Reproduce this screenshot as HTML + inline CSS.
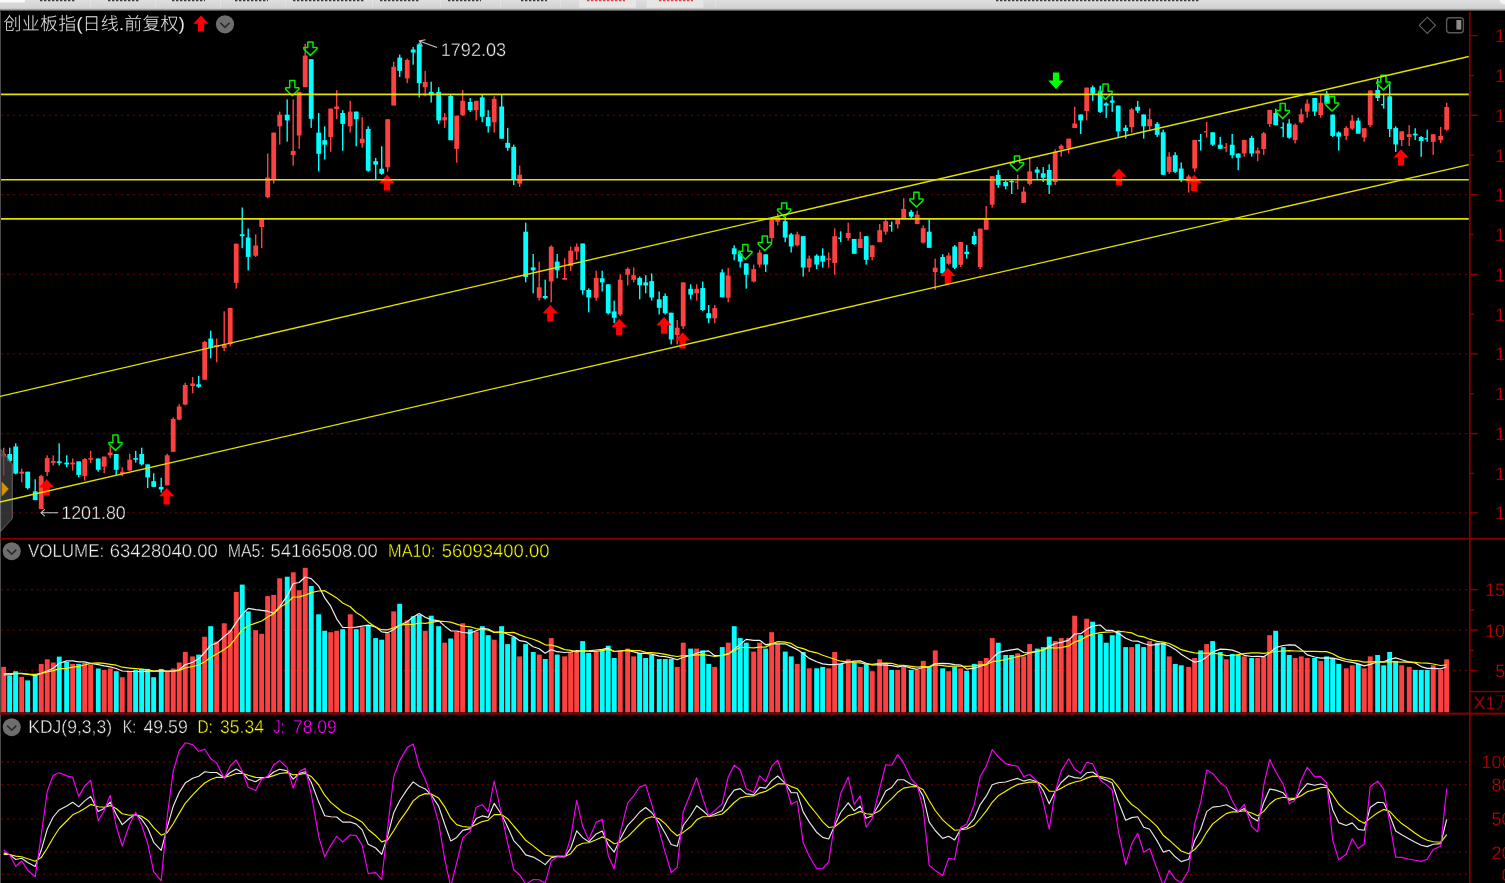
<!DOCTYPE html>
<html lang="zh"><head><meta charset="utf-8"><title>创业板指 日线</title>
<style>html,body{margin:0;padding:0;background:#000;overflow:hidden}body{width:1505px;height:883px;position:relative}</style></head>
<body>
<svg text-rendering="geometricPrecision" width="1505" height="883" viewBox="0 0 1505 883" style="position:absolute;left:0;top:0;display:block">
<defs><linearGradient id="tb" x1="0" y1="0" x2="0" y2="1"><stop offset="0" stop-color="#dedede"/><stop offset="0.72" stop-color="#d2d2d2"/><stop offset="0.86" stop-color="#8a8a8a"/><stop offset="1" stop-color="#000"/></linearGradient></defs>
<rect x="0" y="0" width="1505" height="883" fill="#000"/>
<line x1="1.3" y1="115.3" x2="1467.8" y2="115.3" stroke="#900000" stroke-width="1.3" stroke-dasharray="1.4 4.6"/>
<line x1="1.3" y1="194.7" x2="1467.8" y2="194.7" stroke="#900000" stroke-width="1.3" stroke-dasharray="1.4 4.6"/>
<line x1="1.3" y1="274.4" x2="1467.8" y2="274.4" stroke="#900000" stroke-width="1.3" stroke-dasharray="1.4 4.6"/>
<line x1="1.3" y1="353.9" x2="1467.8" y2="353.9" stroke="#900000" stroke-width="1.3" stroke-dasharray="1.4 4.6"/>
<line x1="1.3" y1="433.6" x2="1467.8" y2="433.6" stroke="#900000" stroke-width="1.3" stroke-dasharray="1.4 4.6"/>
<line x1="1.3" y1="512.9" x2="1467.8" y2="512.9" stroke="#900000" stroke-width="1.3" stroke-dasharray="1.4 4.6"/>
<line x1="1.3" y1="589.6" x2="1467.8" y2="589.6" stroke="#900000" stroke-width="1.3" stroke-dasharray="1.4 4.6"/>
<line x1="1.3" y1="630.1" x2="1467.8" y2="630.1" stroke="#900000" stroke-width="1.3" stroke-dasharray="1.4 4.6"/>
<line x1="1.3" y1="670.5" x2="1467.8" y2="670.5" stroke="#900000" stroke-width="1.3" stroke-dasharray="1.4 4.6"/>
<line x1="1.3" y1="762" x2="1467.8" y2="762" stroke="#900000" stroke-width="1.3" stroke-dasharray="1.4 4.6"/>
<line x1="1.3" y1="784.6" x2="1467.8" y2="784.6" stroke="#900000" stroke-width="1.3" stroke-dasharray="1.4 4.6"/>
<line x1="1.3" y1="818.9" x2="1467.8" y2="818.9" stroke="#900000" stroke-width="1.3" stroke-dasharray="1.4 4.6"/>
<line x1="1.3" y1="851.8" x2="1467.8" y2="851.8" stroke="#900000" stroke-width="1.3" stroke-dasharray="1.4 4.6"/>
<line x1="1.3" y1="874.3" x2="1467.8" y2="874.3" stroke="#900000" stroke-width="1.3" stroke-dasharray="1.4 4.6"/>
<rect x="0" y="11" width="1" height="872" fill="#4a4a4a"/>
<rect x="1469.8" y="34.9" width="8" height="1.4" fill="#880000"/>
<rect x="1469.8" y="74.89999999999999" width="4" height="1.4" fill="#880000"/>
<rect x="1469.8" y="114.6" width="8" height="1.4" fill="#880000"/>
<rect x="1469.8" y="154.4" width="4" height="1.4" fill="#880000"/>
<rect x="1469.8" y="194.0" width="8" height="1.4" fill="#880000"/>
<rect x="1469.8" y="233.8" width="4" height="1.4" fill="#880000"/>
<rect x="1469.8" y="273.7" width="8" height="1.4" fill="#880000"/>
<rect x="1469.8" y="313.40000000000003" width="4" height="1.4" fill="#880000"/>
<rect x="1469.8" y="353.2" width="8" height="1.4" fill="#880000"/>
<rect x="1469.8" y="393.0" width="4" height="1.4" fill="#880000"/>
<rect x="1469.8" y="432.90000000000003" width="8" height="1.4" fill="#880000"/>
<rect x="1469.8" y="472.6" width="4" height="1.4" fill="#880000"/>
<rect x="1469.8" y="512.1999999999999" width="8" height="1.4" fill="#880000"/>
<rect x="1469.8" y="588.9" width="8" height="1.4" fill="#880000"/>
<rect x="1469.8" y="609.3" width="4" height="1.4" fill="#880000"/>
<rect x="1469.8" y="629.4" width="8" height="1.4" fill="#880000"/>
<rect x="1469.8" y="649.6999999999999" width="4" height="1.4" fill="#880000"/>
<rect x="1469.8" y="669.8" width="8" height="1.4" fill="#880000"/>
<rect x="1469.8" y="690.8" width="40" height="1.4" fill="#880000"/>
<rect x="3.0" y="447.7" width="1.4" height="27.8" fill="#FF4040"/>
<rect x="1.3" y="453.8" width="4.8" height="2.8" fill="#FF4040"/>
<rect x="9.0" y="447.7" width="1.4" height="14.5" fill="#00FFFF"/>
<rect x="7.3" y="454.0" width="4.8" height="7.0" fill="#00FFFF"/>
<rect x="15.0" y="443.3" width="1.4" height="30.9" fill="#00FFFF"/>
<rect x="13.3" y="446.5" width="4.8" height="27.1" fill="#00FFFF"/>
<rect x="21.0" y="468.6" width="1.4" height="13.8" fill="#FF4040"/>
<rect x="19.3" y="471.7" width="4.8" height="1.9" fill="#FF4040"/>
<rect x="27.0" y="471.7" width="1.4" height="17.7" fill="#00FFFF"/>
<rect x="25.3" y="471.7" width="4.8" height="16.4" fill="#00FFFF"/>
<rect x="34.5" y="479.3" width="1.4" height="20.8" fill="#00FFFF"/>
<rect x="32.8" y="491.3" width="4.8" height="8.8" fill="#00FFFF"/>
<rect x="40.5" y="474.9" width="1.4" height="34.1" fill="#FF4040"/>
<rect x="38.8" y="476.1" width="4.8" height="32.9" fill="#FF4040"/>
<rect x="46.5" y="455.3" width="1.4" height="20.8" fill="#FF4040"/>
<rect x="44.8" y="458.1" width="4.8" height="13.9" fill="#FF4040"/>
<rect x="52.5" y="455.3" width="1.4" height="10.1" fill="#FF4040"/>
<rect x="50.8" y="461.0" width="4.8" height="1.9" fill="#FF4040"/>
<rect x="58.5" y="443.3" width="1.4" height="22.1" fill="#00FFFF"/>
<rect x="56.8" y="461.4" width="4.8" height="1.7" fill="#00FFFF"/>
<rect x="66.0" y="455.3" width="1.4" height="12.0" fill="#00FFFF"/>
<rect x="64.3" y="462.6" width="4.8" height="1.8" fill="#00FFFF"/>
<rect x="72.0" y="458.5" width="1.4" height="12.0" fill="#FF4040"/>
<rect x="70.3" y="462.6" width="4.8" height="1.8" fill="#FF4040"/>
<rect x="78.0" y="461.4" width="1.4" height="16.0" fill="#00FFFF"/>
<rect x="76.3" y="461.4" width="4.8" height="13.5" fill="#00FFFF"/>
<rect x="84.0" y="458.1" width="1.4" height="22.5" fill="#FF4040"/>
<rect x="82.3" y="459.1" width="4.8" height="17.0" fill="#FF4040"/>
<rect x="90.0" y="450.6" width="1.4" height="12.3" fill="#FF4040"/>
<rect x="88.3" y="458.1" width="4.8" height="1.6" fill="#FF4040"/>
<rect x="97.5" y="458.5" width="1.4" height="13.2" fill="#00FFFF"/>
<rect x="95.8" y="458.5" width="4.8" height="11.3" fill="#00FFFF"/>
<rect x="103.5" y="456.6" width="1.4" height="16.6" fill="#FF4040"/>
<rect x="101.8" y="456.6" width="4.8" height="10.1" fill="#FF4040"/>
<rect x="109.5" y="446.5" width="1.4" height="11.6" fill="#FF4040"/>
<rect x="107.8" y="452.5" width="4.8" height="2.8" fill="#FF4040"/>
<rect x="115.5" y="454.0" width="1.4" height="20.9" fill="#00FFFF"/>
<rect x="113.8" y="454.0" width="4.8" height="15.8" fill="#00FFFF"/>
<rect x="121.5" y="467.3" width="1.4" height="8.8" fill="#FF4040"/>
<rect x="119.8" y="471.7" width="4.8" height="1.9" fill="#FF4040"/>
<rect x="129.0" y="453.8" width="1.4" height="16.7" fill="#FF4040"/>
<rect x="127.3" y="459.7" width="4.8" height="10.8" fill="#FF4040"/>
<rect x="135.0" y="450.9" width="1.4" height="11.7" fill="#00FFFF"/>
<rect x="133.3" y="458.1" width="4.8" height="1.6" fill="#00FFFF"/>
<rect x="141.0" y="447.7" width="1.4" height="17.7" fill="#00FFFF"/>
<rect x="139.3" y="454.0" width="4.8" height="10.4" fill="#00FFFF"/>
<rect x="147.0" y="464.4" width="1.4" height="23.7" fill="#00FFFF"/>
<rect x="145.3" y="464.4" width="4.8" height="13.0" fill="#00FFFF"/>
<rect x="153.0" y="473.2" width="1.4" height="13.7" fill="#00FFFF"/>
<rect x="151.3" y="481.2" width="4.8" height="5.7" fill="#00FFFF"/>
<rect x="160.5" y="477.8" width="1.4" height="14.8" fill="#00FFFF"/>
<rect x="158.8" y="486.9" width="4.8" height="2.5" fill="#00FFFF"/>
<rect x="166.5" y="453.8" width="1.4" height="31.6" fill="#FF4040"/>
<rect x="164.8" y="455.3" width="4.8" height="30.1" fill="#FF4040"/>
<rect x="172.5" y="417.3" width="1.4" height="34.5" fill="#FF4040"/>
<rect x="170.8" y="418.9" width="4.8" height="32.9" fill="#FF4040"/>
<rect x="178.5" y="404.2" width="1.4" height="15.8" fill="#FF4040"/>
<rect x="176.8" y="406.5" width="4.8" height="13.1" fill="#FF4040"/>
<rect x="184.5" y="382.7" width="1.4" height="22.6" fill="#FF4040"/>
<rect x="182.8" y="385.0" width="4.8" height="19.6" fill="#FF4040"/>
<rect x="192.0" y="377.0" width="1.4" height="16.3" fill="#FF4040"/>
<rect x="190.3" y="383.4" width="4.8" height="2.6" fill="#FF4040"/>
<rect x="198.0" y="375.9" width="1.4" height="12.0" fill="#00FFFF"/>
<rect x="196.3" y="384.3" width="4.8" height="2.4" fill="#00FFFF"/>
<rect x="204.0" y="340.8" width="1.4" height="38.9" fill="#FF4040"/>
<rect x="202.3" y="341.9" width="4.8" height="37.8" fill="#FF4040"/>
<rect x="210.0" y="330.6" width="1.4" height="27.8" fill="#00FFFF"/>
<rect x="208.3" y="338.5" width="4.8" height="9.5" fill="#00FFFF"/>
<rect x="216.0" y="338.5" width="1.4" height="23.8" fill="#FF4040"/>
<rect x="214.3" y="345.0" width="4.8" height="2.0" fill="#FF4040"/>
<rect x="223.5" y="311.3" width="1.4" height="39.7" fill="#FF4040"/>
<rect x="221.8" y="344.2" width="4.8" height="3.8" fill="#FF4040"/>
<rect x="229.5" y="307.9" width="1.4" height="38.5" fill="#FF4040"/>
<rect x="227.8" y="307.9" width="4.8" height="36.3" fill="#FF4040"/>
<rect x="235.5" y="243.7" width="1.4" height="44.9" fill="#FF4040"/>
<rect x="233.8" y="243.7" width="4.8" height="39.1" fill="#FF4040"/>
<rect x="241.5" y="207.5" width="1.4" height="40.7" fill="#00FFFF"/>
<rect x="239.8" y="234.3" width="4.8" height="1.8" fill="#00FFFF"/>
<rect x="247.5" y="228.5" width="1.4" height="42.0" fill="#00FFFF"/>
<rect x="245.8" y="237.5" width="4.8" height="19.4" fill="#00FFFF"/>
<rect x="255.0" y="234.3" width="1.4" height="22.6" fill="#FF4040"/>
<rect x="253.3" y="245.5" width="4.8" height="10.2" fill="#FF4040"/>
<rect x="261.0" y="218.9" width="1.4" height="29.3" fill="#FF4040"/>
<rect x="259.3" y="219.4" width="4.8" height="7.6" fill="#FF4040"/>
<rect x="267.0" y="153.4" width="1.4" height="44.9" fill="#FF4040"/>
<rect x="265.3" y="177.5" width="4.8" height="19.7" fill="#FF4040"/>
<rect x="273.0" y="132.6" width="1.4" height="51.0" fill="#FF4040"/>
<rect x="271.3" y="132.6" width="4.8" height="46.9" fill="#FF4040"/>
<rect x="279.0" y="111.6" width="1.4" height="33.0" fill="#FF4040"/>
<rect x="277.3" y="114.7" width="4.8" height="11.6" fill="#FF4040"/>
<rect x="286.5" y="99.4" width="1.4" height="42.2" fill="#00FFFF"/>
<rect x="284.8" y="114.7" width="4.8" height="5.7" fill="#00FFFF"/>
<rect x="292.5" y="99.4" width="1.4" height="66.2" fill="#FF4040"/>
<rect x="290.8" y="151.0" width="4.8" height="4.0" fill="#FF4040"/>
<rect x="298.5" y="91.9" width="1.4" height="57.0" fill="#FF4040"/>
<rect x="296.8" y="91.9" width="4.8" height="43.6" fill="#FF4040"/>
<rect x="304.5" y="43.8" width="1.4" height="43.4" fill="#FF4040"/>
<rect x="302.8" y="55.6" width="4.8" height="31.6" fill="#FF4040"/>
<rect x="310.5" y="59.2" width="1.4" height="68.7" fill="#00FFFF"/>
<rect x="308.8" y="59.2" width="4.8" height="59.6" fill="#00FFFF"/>
<rect x="318.0" y="113.0" width="1.4" height="58.4" fill="#00FFFF"/>
<rect x="316.3" y="132.6" width="4.8" height="21.2" fill="#00FFFF"/>
<rect x="324.0" y="126.3" width="1.4" height="33.2" fill="#00FFFF"/>
<rect x="322.3" y="140.2" width="4.8" height="4.4" fill="#00FFFF"/>
<rect x="330.0" y="108.6" width="1.4" height="43.2" fill="#FF4040"/>
<rect x="328.3" y="108.6" width="4.8" height="28.5" fill="#FF4040"/>
<rect x="336.0" y="90.2" width="1.4" height="29.0" fill="#FF4040"/>
<rect x="334.3" y="106.5" width="4.8" height="2.5" fill="#FF4040"/>
<rect x="342.0" y="110.2" width="1.4" height="40.6" fill="#00FFFF"/>
<rect x="340.3" y="113.0" width="4.8" height="10.9" fill="#00FFFF"/>
<rect x="349.5" y="100.8" width="1.4" height="31.8" fill="#FF4040"/>
<rect x="347.8" y="111.6" width="4.8" height="14.7" fill="#FF4040"/>
<rect x="355.5" y="111.6" width="1.4" height="34.7" fill="#00FFFF"/>
<rect x="353.8" y="111.6" width="4.8" height="7.6" fill="#00FFFF"/>
<rect x="361.5" y="117.1" width="1.4" height="30.6" fill="#FF4040"/>
<rect x="359.8" y="138.7" width="4.8" height="4.5" fill="#FF4040"/>
<rect x="367.5" y="126.3" width="1.4" height="45.5" fill="#00FFFF"/>
<rect x="365.8" y="129.0" width="4.8" height="41.7" fill="#00FFFF"/>
<rect x="375.0" y="157.9" width="1.4" height="21.6" fill="#00FFFF"/>
<rect x="373.3" y="161.2" width="4.8" height="3.4" fill="#00FFFF"/>
<rect x="381.0" y="146.3" width="1.4" height="28.5" fill="#00FFFF"/>
<rect x="379.3" y="168.7" width="4.8" height="5.1" fill="#00FFFF"/>
<rect x="387.0" y="119.2" width="1.4" height="52.6" fill="#FF4040"/>
<rect x="385.3" y="119.2" width="4.8" height="48.1" fill="#FF4040"/>
<rect x="393.0" y="61.7" width="1.4" height="43.8" fill="#FF4040"/>
<rect x="391.3" y="66.8" width="4.8" height="38.7" fill="#FF4040"/>
<rect x="399.0" y="54.6" width="1.4" height="22.4" fill="#00FFFF"/>
<rect x="397.3" y="57.6" width="4.8" height="13.3" fill="#00FFFF"/>
<rect x="406.5" y="58.6" width="1.4" height="24.5" fill="#FF4040"/>
<rect x="404.8" y="60.0" width="4.8" height="18.4" fill="#FF4040"/>
<rect x="412.5" y="47.0" width="1.4" height="17.7" fill="#00FFFF"/>
<rect x="410.8" y="49.5" width="4.8" height="3.0" fill="#00FFFF"/>
<rect x="418.5" y="42.9" width="1.4" height="54.5" fill="#00FFFF"/>
<rect x="416.8" y="44.4" width="4.8" height="38.7" fill="#00FFFF"/>
<rect x="424.5" y="70.9" width="1.4" height="25.4" fill="#FF4040"/>
<rect x="422.8" y="82.0" width="4.8" height="5.2" fill="#FF4040"/>
<rect x="430.5" y="81.7" width="1.4" height="20.8" fill="#00FFFF"/>
<rect x="428.8" y="91.9" width="4.8" height="3.4" fill="#00FFFF"/>
<rect x="438.0" y="87.2" width="1.4" height="36.7" fill="#00FFFF"/>
<rect x="436.3" y="91.9" width="4.8" height="28.5" fill="#00FFFF"/>
<rect x="444.0" y="113.0" width="1.4" height="14.9" fill="#FF4040"/>
<rect x="442.3" y="117.1" width="4.8" height="3.3" fill="#FF4040"/>
<rect x="450.0" y="94.3" width="1.4" height="45.9" fill="#00FFFF"/>
<rect x="448.3" y="95.9" width="4.8" height="44.3" fill="#00FFFF"/>
<rect x="456.0" y="115.7" width="1.4" height="46.9" fill="#FF4040"/>
<rect x="454.3" y="115.7" width="4.8" height="33.2" fill="#FF4040"/>
<rect x="462.0" y="90.2" width="1.4" height="25.8" fill="#FF4040"/>
<rect x="460.3" y="100.8" width="4.8" height="14.3" fill="#FF4040"/>
<rect x="469.5" y="98.0" width="1.4" height="14.0" fill="#00FFFF"/>
<rect x="467.8" y="102.0" width="4.8" height="8.2" fill="#00FFFF"/>
<rect x="475.5" y="100.8" width="1.4" height="19.6" fill="#FF4040"/>
<rect x="473.8" y="100.8" width="4.8" height="9.4" fill="#FF4040"/>
<rect x="481.5" y="94.3" width="1.4" height="27.9" fill="#00FFFF"/>
<rect x="479.8" y="97.4" width="4.8" height="19.3" fill="#00FFFF"/>
<rect x="487.5" y="110.2" width="1.4" height="22.4" fill="#00FFFF"/>
<rect x="485.8" y="117.1" width="4.8" height="9.2" fill="#00FFFF"/>
<rect x="493.5" y="96.3" width="1.4" height="36.3" fill="#FF4040"/>
<rect x="491.8" y="98.8" width="4.8" height="23.6" fill="#FF4040"/>
<rect x="501.0" y="94.3" width="1.4" height="44.4" fill="#00FFFF"/>
<rect x="499.3" y="106.5" width="4.8" height="32.2" fill="#00FFFF"/>
<rect x="507.0" y="127.9" width="1.4" height="22.9" fill="#00FFFF"/>
<rect x="505.3" y="142.8" width="4.8" height="5.1" fill="#00FFFF"/>
<rect x="513.0" y="144.6" width="1.4" height="40.4" fill="#00FFFF"/>
<rect x="511.3" y="146.9" width="4.8" height="32.6" fill="#00FFFF"/>
<rect x="519.0" y="165.6" width="1.4" height="21.4" fill="#FF4040"/>
<rect x="517.3" y="174.8" width="4.8" height="8.8" fill="#FF4040"/>
<rect x="525.0" y="222.6" width="1.4" height="59.8" fill="#00FFFF"/>
<rect x="523.3" y="231.7" width="4.8" height="45.3" fill="#00FFFF"/>
<rect x="532.5" y="254.0" width="1.4" height="39.3" fill="#00FFFF"/>
<rect x="530.8" y="267.4" width="4.8" height="2.9" fill="#00FFFF"/>
<rect x="538.5" y="261.6" width="1.4" height="39.0" fill="#FF4040"/>
<rect x="536.8" y="287.3" width="4.8" height="10.5" fill="#FF4040"/>
<rect x="544.5" y="279.7" width="1.4" height="19.6" fill="#00FFFF"/>
<rect x="542.8" y="296.0" width="4.8" height="2.2" fill="#00FFFF"/>
<rect x="550.5" y="245.3" width="1.4" height="57.1" fill="#FF4040"/>
<rect x="548.8" y="246.7" width="4.8" height="34.8" fill="#FF4040"/>
<rect x="556.5" y="254.0" width="1.4" height="24.3" fill="#00FFFF"/>
<rect x="554.8" y="261.6" width="4.8" height="8.7" fill="#00FFFF"/>
<rect x="564.0" y="258.3" width="1.4" height="21.4" fill="#FF4040"/>
<rect x="562.3" y="278.0" width="4.8" height="1.7" fill="#FF4040"/>
<rect x="570.0" y="246.7" width="1.4" height="24.0" fill="#FF4040"/>
<rect x="568.3" y="250.7" width="4.8" height="15.4" fill="#FF4040"/>
<rect x="576.0" y="243.5" width="1.4" height="16.3" fill="#FF4040"/>
<rect x="574.3" y="246.7" width="4.8" height="4.9" fill="#FF4040"/>
<rect x="582.0" y="243.5" width="1.4" height="51.1" fill="#00FFFF"/>
<rect x="580.3" y="243.5" width="4.8" height="46.7" fill="#00FFFF"/>
<rect x="588.0" y="288.4" width="1.4" height="23.9" fill="#00FFFF"/>
<rect x="586.3" y="290.0" width="4.8" height="7.5" fill="#00FFFF"/>
<rect x="595.5" y="270.7" width="1.4" height="29.9" fill="#FF4040"/>
<rect x="593.8" y="277.9" width="4.8" height="19.9" fill="#FF4040"/>
<rect x="601.5" y="270.7" width="1.4" height="20.8" fill="#00FFFF"/>
<rect x="599.8" y="278.3" width="4.8" height="4.1" fill="#00FFFF"/>
<rect x="607.5" y="284.3" width="1.4" height="30.2" fill="#00FFFF"/>
<rect x="605.8" y="284.3" width="4.8" height="28.9" fill="#00FFFF"/>
<rect x="613.5" y="300.6" width="1.4" height="22.6" fill="#00FFFF"/>
<rect x="611.8" y="311.4" width="4.8" height="6.4" fill="#00FFFF"/>
<rect x="619.5" y="274.3" width="1.4" height="41.7" fill="#FF4040"/>
<rect x="617.8" y="279.7" width="4.8" height="34.8" fill="#FF4040"/>
<rect x="627.0" y="267.4" width="1.4" height="18.1" fill="#FF4040"/>
<rect x="625.3" y="268.9" width="4.8" height="5.8" fill="#FF4040"/>
<rect x="633.0" y="267.4" width="1.4" height="15.0" fill="#FF4040"/>
<rect x="631.3" y="275.2" width="4.8" height="4.5" fill="#FF4040"/>
<rect x="639.0" y="276.5" width="1.4" height="22.8" fill="#00FFFF"/>
<rect x="637.3" y="277.9" width="4.8" height="7.3" fill="#00FFFF"/>
<rect x="645.0" y="275.2" width="1.4" height="18.1" fill="#00FFFF"/>
<rect x="643.3" y="282.4" width="4.8" height="3.1" fill="#00FFFF"/>
<rect x="651.0" y="273.4" width="1.4" height="27.2" fill="#00FFFF"/>
<rect x="649.3" y="281.2" width="4.8" height="16.3" fill="#00FFFF"/>
<rect x="658.5" y="291.5" width="1.4" height="23.0" fill="#00FFFF"/>
<rect x="656.8" y="299.3" width="4.8" height="8.5" fill="#00FFFF"/>
<rect x="664.5" y="293.3" width="1.4" height="21.2" fill="#00FFFF"/>
<rect x="662.8" y="296.0" width="4.8" height="17.2" fill="#00FFFF"/>
<rect x="670.5" y="312.7" width="1.4" height="31.7" fill="#00FFFF"/>
<rect x="668.8" y="312.7" width="4.8" height="26.8" fill="#00FFFF"/>
<rect x="676.5" y="320.0" width="1.4" height="24.4" fill="#FF4040"/>
<rect x="674.8" y="327.7" width="4.8" height="7.3" fill="#FF4040"/>
<rect x="682.5" y="282.4" width="1.4" height="46.6" fill="#FF4040"/>
<rect x="680.8" y="282.4" width="4.8" height="43.9" fill="#FF4040"/>
<rect x="690.0" y="284.3" width="1.4" height="15.0" fill="#00FFFF"/>
<rect x="688.3" y="288.8" width="4.8" height="5.8" fill="#00FFFF"/>
<rect x="696.0" y="284.3" width="1.4" height="16.3" fill="#FF4040"/>
<rect x="694.3" y="288.8" width="4.8" height="4.5" fill="#FF4040"/>
<rect x="702.0" y="281.5" width="1.4" height="29.5" fill="#00FFFF"/>
<rect x="700.3" y="288.0" width="4.8" height="22.0" fill="#00FFFF"/>
<rect x="708.0" y="305.0" width="1.4" height="18.2" fill="#00FFFF"/>
<rect x="706.3" y="313.2" width="4.8" height="5.1" fill="#00FFFF"/>
<rect x="714.0" y="305.0" width="1.4" height="18.2" fill="#FF4040"/>
<rect x="712.3" y="308.1" width="4.8" height="10.2" fill="#FF4040"/>
<rect x="721.5" y="269.2" width="1.4" height="28.1" fill="#00FFFF"/>
<rect x="719.8" y="272.4" width="4.8" height="24.9" fill="#00FFFF"/>
<rect x="727.5" y="267.9" width="1.4" height="34.4" fill="#FF4040"/>
<rect x="725.8" y="275.5" width="4.8" height="22.3" fill="#FF4040"/>
<rect x="733.5" y="245.3" width="1.4" height="15.0" fill="#00FFFF"/>
<rect x="731.8" y="248.3" width="4.8" height="6.0" fill="#00FFFF"/>
<rect x="739.5" y="251.6" width="1.4" height="15.9" fill="#00FFFF"/>
<rect x="737.8" y="253.4" width="4.8" height="8.2" fill="#00FFFF"/>
<rect x="745.5" y="263.4" width="1.4" height="25.3" fill="#00FFFF"/>
<rect x="743.8" y="263.4" width="4.8" height="11.4" fill="#00FFFF"/>
<rect x="753.0" y="264.6" width="1.4" height="17.8" fill="#FF4040"/>
<rect x="751.3" y="269.2" width="4.8" height="12.3" fill="#FF4040"/>
<rect x="759.0" y="249.8" width="1.4" height="17.7" fill="#FF4040"/>
<rect x="757.3" y="252.5" width="4.8" height="12.1" fill="#FF4040"/>
<rect x="765.0" y="254.3" width="1.4" height="17.6" fill="#00FFFF"/>
<rect x="763.3" y="254.3" width="4.8" height="10.3" fill="#00FFFF"/>
<rect x="771.0" y="217.2" width="1.4" height="25.3" fill="#FF4040"/>
<rect x="769.3" y="219.9" width="4.8" height="18.1" fill="#FF4040"/>
<rect x="777.0" y="213.5" width="1.4" height="11.8" fill="#FF4040"/>
<rect x="775.3" y="217.2" width="4.8" height="4.5" fill="#FF4040"/>
<rect x="784.5" y="217.0" width="1.4" height="25.2" fill="#00FFFF"/>
<rect x="782.8" y="221.2" width="4.8" height="16.3" fill="#00FFFF"/>
<rect x="790.5" y="232.9" width="1.4" height="19.6" fill="#00FFFF"/>
<rect x="788.8" y="234.4" width="4.8" height="12.1" fill="#00FFFF"/>
<rect x="796.5" y="231.7" width="1.4" height="14.8" fill="#FF4040"/>
<rect x="794.8" y="234.4" width="4.8" height="10.9" fill="#FF4040"/>
<rect x="802.5" y="236.2" width="1.4" height="40.4" fill="#00FFFF"/>
<rect x="800.8" y="236.2" width="4.8" height="31.3" fill="#00FFFF"/>
<rect x="808.5" y="255.6" width="1.4" height="16.3" fill="#FF4040"/>
<rect x="806.8" y="258.5" width="4.8" height="9.0" fill="#FF4040"/>
<rect x="816.0" y="254.3" width="1.4" height="14.9" fill="#00FFFF"/>
<rect x="814.3" y="255.6" width="4.8" height="9.0" fill="#00FFFF"/>
<rect x="822.0" y="248.3" width="1.4" height="19.2" fill="#00FFFF"/>
<rect x="820.3" y="255.6" width="4.8" height="6.0" fill="#00FFFF"/>
<rect x="828.0" y="252.5" width="1.4" height="15.0" fill="#FF4040"/>
<rect x="826.3" y="258.5" width="4.8" height="1.4" fill="#FF4040"/>
<rect x="834.0" y="228.4" width="1.4" height="46.4" fill="#FF4040"/>
<rect x="832.3" y="236.2" width="4.8" height="26.8" fill="#FF4040"/>
<rect x="840.0" y="231.3" width="1.4" height="10.9" fill="#00FFFF"/>
<rect x="838.1" y="237.5" width="2.6" height="1.4" fill="#00FFFF"/>
<rect x="847.5" y="222.6" width="1.4" height="18.1" fill="#FF4040"/>
<rect x="845.8" y="232.9" width="4.8" height="5.1" fill="#FF4040"/>
<rect x="853.5" y="238.9" width="1.4" height="14.9" fill="#00FFFF"/>
<rect x="851.8" y="238.9" width="4.8" height="14.9" fill="#00FFFF"/>
<rect x="859.5" y="231.7" width="1.4" height="16.3" fill="#FF4040"/>
<rect x="857.8" y="238.9" width="4.8" height="9.1" fill="#FF4040"/>
<rect x="865.5" y="236.2" width="1.4" height="28.4" fill="#00FFFF"/>
<rect x="863.8" y="236.2" width="4.8" height="23.6" fill="#00FFFF"/>
<rect x="871.5" y="245.3" width="1.4" height="15.0" fill="#FF4040"/>
<rect x="869.8" y="245.3" width="4.8" height="11.7" fill="#FF4040"/>
<rect x="879.0" y="224.0" width="1.4" height="18.2" fill="#FF4040"/>
<rect x="877.3" y="230.2" width="4.8" height="12.0" fill="#FF4040"/>
<rect x="885.0" y="219.0" width="1.4" height="15.8" fill="#FF4040"/>
<rect x="883.3" y="221.2" width="4.8" height="10.5" fill="#FF4040"/>
<rect x="891.0" y="221.5" width="1.4" height="10.2" fill="#00FFFF"/>
<rect x="889.1" y="225.0" width="2.6" height="1.4" fill="#00FFFF"/>
<rect x="897.0" y="218.6" width="1.4" height="10.0" fill="#FF4040"/>
<rect x="895.3" y="219.5" width="4.8" height="4.8" fill="#FF4040"/>
<rect x="903.0" y="198.3" width="1.4" height="20.3" fill="#FF4040"/>
<rect x="901.3" y="208.9" width="4.8" height="9.7" fill="#FF4040"/>
<rect x="910.5" y="209.9" width="1.4" height="8.7" fill="#00FFFF"/>
<rect x="908.8" y="211.8" width="4.8" height="4.8" fill="#00FFFF"/>
<rect x="916.5" y="210.5" width="1.4" height="13.8" fill="#FF4040"/>
<rect x="914.8" y="214.7" width="4.8" height="9.3" fill="#FF4040"/>
<rect x="922.5" y="225.3" width="1.4" height="18.3" fill="#FF4040"/>
<rect x="920.8" y="228.2" width="4.8" height="14.4" fill="#FF4040"/>
<rect x="928.5" y="219.5" width="1.4" height="28.3" fill="#00FFFF"/>
<rect x="926.8" y="231.7" width="4.8" height="16.1" fill="#00FFFF"/>
<rect x="934.5" y="258.6" width="1.4" height="31.2" fill="#FF4040"/>
<rect x="932.8" y="267.7" width="4.8" height="4.3" fill="#FF4040"/>
<rect x="942.0" y="254.2" width="1.4" height="19.2" fill="#00FFFF"/>
<rect x="940.3" y="257.0" width="4.8" height="16.4" fill="#00FFFF"/>
<rect x="948.0" y="252.6" width="1.4" height="12.2" fill="#FF4040"/>
<rect x="946.3" y="255.5" width="4.8" height="8.3" fill="#FF4040"/>
<rect x="954.0" y="245.0" width="1.4" height="24.0" fill="#00FFFF"/>
<rect x="952.3" y="246.5" width="4.8" height="21.2" fill="#00FFFF"/>
<rect x="960.0" y="242.0" width="1.4" height="25.0" fill="#FF4040"/>
<rect x="958.3" y="242.0" width="4.8" height="22.8" fill="#FF4040"/>
<rect x="966.0" y="245.0" width="1.4" height="13.6" fill="#00FFFF"/>
<rect x="964.3" y="251.7" width="4.8" height="2.5" fill="#00FFFF"/>
<rect x="973.5" y="231.7" width="1.4" height="13.3" fill="#00FFFF"/>
<rect x="971.8" y="235.9" width="4.8" height="8.1" fill="#00FFFF"/>
<rect x="979.5" y="228.6" width="1.4" height="40.4" fill="#FF4040"/>
<rect x="977.8" y="228.6" width="4.8" height="38.4" fill="#FF4040"/>
<rect x="985.5" y="206.0" width="1.4" height="23.7" fill="#FF4040"/>
<rect x="983.8" y="219.0" width="4.8" height="10.7" fill="#FF4040"/>
<rect x="991.5" y="176.2" width="1.4" height="31.4" fill="#FF4040"/>
<rect x="989.8" y="176.2" width="4.8" height="28.5" fill="#FF4040"/>
<rect x="997.5" y="170.0" width="1.4" height="17.8" fill="#00FFFF"/>
<rect x="995.8" y="174.9" width="4.8" height="10.0" fill="#00FFFF"/>
<rect x="1005.0" y="180.4" width="1.4" height="8.9" fill="#00FFFF"/>
<rect x="1003.3" y="182.0" width="4.8" height="4.2" fill="#00FFFF"/>
<rect x="1011.0" y="179.7" width="1.4" height="14.3" fill="#00FFFF"/>
<rect x="1009.3" y="181.0" width="4.8" height="1.4" fill="#00FFFF"/>
<rect x="1017.0" y="174.7" width="1.4" height="14.6" fill="#FF4040"/>
<rect x="1015.1" y="181.5" width="2.6" height="1.4" fill="#FF4040"/>
<rect x="1023.0" y="186.8" width="1.4" height="16.0" fill="#FF4040"/>
<rect x="1021.3" y="191.6" width="4.8" height="11.2" fill="#FF4040"/>
<rect x="1029.0" y="157.0" width="1.4" height="28.4" fill="#FF4040"/>
<rect x="1027.3" y="171.4" width="4.8" height="12.5" fill="#FF4040"/>
<rect x="1036.5" y="167.0" width="1.4" height="12.0" fill="#00FFFF"/>
<rect x="1034.8" y="169.5" width="4.8" height="3.2" fill="#00FFFF"/>
<rect x="1042.5" y="167.0" width="1.4" height="15.0" fill="#00FFFF"/>
<rect x="1040.8" y="173.3" width="4.8" height="4.4" fill="#00FFFF"/>
<rect x="1048.5" y="164.3" width="1.4" height="29.7" fill="#00FFFF"/>
<rect x="1046.8" y="170.0" width="4.8" height="14.9" fill="#00FFFF"/>
<rect x="1054.5" y="149.3" width="1.4" height="35.6" fill="#FF4040"/>
<rect x="1052.8" y="151.6" width="4.8" height="30.4" fill="#FF4040"/>
<rect x="1060.5" y="144.4" width="1.4" height="12.2" fill="#FF4040"/>
<rect x="1058.8" y="145.8" width="4.8" height="3.5" fill="#FF4040"/>
<rect x="1068.0" y="138.7" width="1.4" height="14.8" fill="#FF4040"/>
<rect x="1066.3" y="138.7" width="4.8" height="9.6" fill="#FF4040"/>
<rect x="1074.0" y="106.8" width="1.4" height="21.2" fill="#FF4040"/>
<rect x="1072.3" y="123.5" width="4.8" height="4.5" fill="#FF4040"/>
<rect x="1080.0" y="114.5" width="1.4" height="19.5" fill="#00FFFF"/>
<rect x="1078.3" y="114.5" width="4.8" height="5.9" fill="#00FFFF"/>
<rect x="1086.0" y="87.6" width="1.4" height="32.8" fill="#FF4040"/>
<rect x="1084.3" y="87.6" width="4.8" height="23.4" fill="#FF4040"/>
<rect x="1092.0" y="85.6" width="1.4" height="15.3" fill="#00FFFF"/>
<rect x="1090.3" y="87.3" width="4.8" height="6.4" fill="#00FFFF"/>
<rect x="1099.5" y="85.6" width="1.4" height="27.4" fill="#00FFFF"/>
<rect x="1097.8" y="91.5" width="4.8" height="20.4" fill="#00FFFF"/>
<rect x="1105.5" y="102.2" width="1.4" height="15.7" fill="#00FFFF"/>
<rect x="1103.8" y="103.4" width="4.8" height="2.2" fill="#00FFFF"/>
<rect x="1111.5" y="95.8" width="1.4" height="16.1" fill="#00FFFF"/>
<rect x="1109.8" y="100.5" width="4.8" height="2.1" fill="#00FFFF"/>
<rect x="1117.5" y="105.6" width="1.4" height="31.8" fill="#00FFFF"/>
<rect x="1115.8" y="105.6" width="4.8" height="25.8" fill="#00FFFF"/>
<rect x="1125.0" y="125.0" width="1.4" height="13.6" fill="#00FFFF"/>
<rect x="1123.3" y="127.7" width="4.8" height="3.3" fill="#00FFFF"/>
<rect x="1131.0" y="108.0" width="1.4" height="24.8" fill="#FF4040"/>
<rect x="1129.3" y="109.4" width="4.8" height="17.8" fill="#FF4040"/>
<rect x="1137.0" y="100.9" width="1.4" height="12.1" fill="#00FFFF"/>
<rect x="1135.3" y="106.8" width="4.8" height="3.9" fill="#00FFFF"/>
<rect x="1143.0" y="114.5" width="1.4" height="24.1" fill="#00FFFF"/>
<rect x="1141.3" y="114.5" width="4.8" height="11.8" fill="#00FFFF"/>
<rect x="1149.0" y="108.5" width="1.4" height="21.2" fill="#FF4040"/>
<rect x="1147.3" y="119.2" width="4.8" height="7.1" fill="#FF4040"/>
<rect x="1156.5" y="122.0" width="1.4" height="14.9" fill="#00FFFF"/>
<rect x="1154.8" y="123.8" width="4.8" height="11.0" fill="#00FFFF"/>
<rect x="1162.5" y="129.7" width="1.4" height="45.1" fill="#00FFFF"/>
<rect x="1160.8" y="132.3" width="4.8" height="42.5" fill="#00FFFF"/>
<rect x="1168.5" y="152.2" width="1.4" height="21.7" fill="#FF4040"/>
<rect x="1166.8" y="156.6" width="4.8" height="15.3" fill="#FF4040"/>
<rect x="1174.5" y="152.2" width="1.4" height="20.8" fill="#00FFFF"/>
<rect x="1172.8" y="155.2" width="4.8" height="16.7" fill="#00FFFF"/>
<rect x="1180.5" y="162.4" width="1.4" height="19.6" fill="#00FFFF"/>
<rect x="1178.8" y="168.5" width="4.8" height="11.3" fill="#00FFFF"/>
<rect x="1188.0" y="174.8" width="1.4" height="17.8" fill="#FF4040"/>
<rect x="1186.3" y="176.5" width="4.8" height="5.0" fill="#FF4040"/>
<rect x="1194.0" y="139.9" width="1.4" height="32.0" fill="#FF4040"/>
<rect x="1192.3" y="139.9" width="4.8" height="28.6" fill="#FF4040"/>
<rect x="1200.0" y="134.0" width="1.4" height="16.5" fill="#00FFFF"/>
<rect x="1198.1" y="140.0" width="2.6" height="1.4" fill="#00FFFF"/>
<rect x="1206.0" y="122.0" width="1.4" height="15.4" fill="#FF4040"/>
<rect x="1204.1" y="131.0" width="2.6" height="1.4" fill="#FF4040"/>
<rect x="1212.0" y="132.3" width="1.4" height="13.6" fill="#00FFFF"/>
<rect x="1210.3" y="132.3" width="4.8" height="12.4" fill="#00FFFF"/>
<rect x="1219.5" y="136.9" width="1.4" height="11.9" fill="#00FFFF"/>
<rect x="1217.8" y="144.7" width="4.8" height="4.1" fill="#00FFFF"/>
<rect x="1225.5" y="143.0" width="1.4" height="9.2" fill="#FF4040"/>
<rect x="1223.6" y="147.0" width="2.6" height="1.4" fill="#FF4040"/>
<rect x="1231.5" y="134.0" width="1.4" height="24.3" fill="#00FFFF"/>
<rect x="1229.8" y="144.7" width="4.8" height="10.5" fill="#00FFFF"/>
<rect x="1237.5" y="153.5" width="1.4" height="16.7" fill="#00FFFF"/>
<rect x="1235.8" y="153.5" width="4.8" height="4.3" fill="#00FFFF"/>
<rect x="1243.5" y="139.9" width="1.4" height="16.7" fill="#FF4040"/>
<rect x="1241.8" y="139.9" width="4.8" height="13.6" fill="#FF4040"/>
<rect x="1251.0" y="135.7" width="1.4" height="20.9" fill="#00FFFF"/>
<rect x="1249.3" y="137.9" width="4.8" height="15.6" fill="#00FFFF"/>
<rect x="1257.0" y="147.6" width="1.4" height="13.6" fill="#FF4040"/>
<rect x="1255.3" y="150.5" width="4.8" height="3.0" fill="#FF4040"/>
<rect x="1263.0" y="132.0" width="1.4" height="23.0" fill="#FF4040"/>
<rect x="1261.3" y="133.3" width="4.8" height="15.7" fill="#FF4040"/>
<rect x="1269.0" y="109.9" width="1.4" height="17.0" fill="#FF4040"/>
<rect x="1267.3" y="109.9" width="4.8" height="14.1" fill="#FF4040"/>
<rect x="1275.0" y="108.7" width="1.4" height="16.5" fill="#00FFFF"/>
<rect x="1273.3" y="112.9" width="4.8" height="12.3" fill="#00FFFF"/>
<rect x="1282.5" y="122.3" width="1.4" height="14.7" fill="#00FFFF"/>
<rect x="1280.6" y="127.0" width="2.6" height="1.4" fill="#00FFFF"/>
<rect x="1288.5" y="119.2" width="1.4" height="19.6" fill="#00FFFF"/>
<rect x="1286.8" y="123.5" width="4.8" height="14.1" fill="#00FFFF"/>
<rect x="1294.5" y="123.5" width="1.4" height="20.0" fill="#FF4040"/>
<rect x="1292.8" y="124.8" width="4.8" height="15.3" fill="#FF4040"/>
<rect x="1300.5" y="108.7" width="1.4" height="14.8" fill="#FF4040"/>
<rect x="1298.8" y="114.3" width="4.8" height="8.0" fill="#FF4040"/>
<rect x="1306.5" y="99.4" width="1.4" height="18.3" fill="#FF4040"/>
<rect x="1304.8" y="103.6" width="4.8" height="8.0" fill="#FF4040"/>
<rect x="1314.0" y="98.0" width="1.4" height="18.0" fill="#00FFFF"/>
<rect x="1312.3" y="98.0" width="4.8" height="13.6" fill="#00FFFF"/>
<rect x="1320.0" y="94.3" width="1.4" height="23.4" fill="#FF4040"/>
<rect x="1318.3" y="102.8" width="4.8" height="12.2" fill="#FF4040"/>
<rect x="1326.0" y="90.9" width="1.4" height="12.7" fill="#00FFFF"/>
<rect x="1324.3" y="94.3" width="4.8" height="9.3" fill="#00FFFF"/>
<rect x="1332.0" y="114.6" width="1.4" height="22.4" fill="#00FFFF"/>
<rect x="1330.3" y="114.6" width="4.8" height="21.3" fill="#00FFFF"/>
<rect x="1338.0" y="131.3" width="1.4" height="19.4" fill="#00FFFF"/>
<rect x="1336.3" y="132.5" width="4.8" height="4.2" fill="#00FFFF"/>
<rect x="1345.5" y="126.2" width="1.4" height="13.9" fill="#FF4040"/>
<rect x="1343.8" y="127.9" width="4.8" height="8.0" fill="#FF4040"/>
<rect x="1351.5" y="115.0" width="1.4" height="15.0" fill="#FF4040"/>
<rect x="1349.8" y="120.6" width="4.8" height="8.0" fill="#FF4040"/>
<rect x="1357.5" y="117.7" width="1.4" height="16.0" fill="#00FFFF"/>
<rect x="1355.8" y="120.6" width="4.8" height="13.1" fill="#00FFFF"/>
<rect x="1363.5" y="128.2" width="1.4" height="13.6" fill="#FF4040"/>
<rect x="1361.8" y="128.2" width="4.8" height="9.4" fill="#FF4040"/>
<rect x="1369.5" y="90.5" width="1.4" height="36.4" fill="#FF4040"/>
<rect x="1367.8" y="90.5" width="4.8" height="34.7" fill="#FF4040"/>
<rect x="1377.0" y="79.0" width="1.4" height="22.0" fill="#00FFFF"/>
<rect x="1375.3" y="90.0" width="4.8" height="8.0" fill="#00FFFF"/>
<rect x="1383.0" y="95.0" width="1.4" height="13.7" fill="#00FFFF"/>
<rect x="1381.1" y="104.0" width="2.6" height="1.4" fill="#00FFFF"/>
<rect x="1389.0" y="83.7" width="1.4" height="53.3" fill="#00FFFF"/>
<rect x="1387.3" y="96.3" width="4.8" height="32.7" fill="#00FFFF"/>
<rect x="1395.0" y="126.2" width="1.4" height="25.8" fill="#00FFFF"/>
<rect x="1393.3" y="127.9" width="4.8" height="16.5" fill="#00FFFF"/>
<rect x="1401.0" y="131.3" width="1.4" height="14.7" fill="#FF4040"/>
<rect x="1399.3" y="131.3" width="4.8" height="8.8" fill="#FF4040"/>
<rect x="1408.5" y="125.2" width="1.4" height="20.8" fill="#FF4040"/>
<rect x="1406.8" y="134.2" width="4.8" height="2.8" fill="#FF4040"/>
<rect x="1414.5" y="128.2" width="1.4" height="11.9" fill="#00FFFF"/>
<rect x="1412.8" y="133.7" width="4.8" height="1.7" fill="#00FFFF"/>
<rect x="1420.5" y="135.9" width="1.4" height="20.9" fill="#00FFFF"/>
<rect x="1418.8" y="137.0" width="4.8" height="4.0" fill="#00FFFF"/>
<rect x="1426.5" y="129.6" width="1.4" height="12.2" fill="#00FFFF"/>
<rect x="1424.6" y="138.0" width="2.6" height="1.4" fill="#00FFFF"/>
<rect x="1432.5" y="134.2" width="1.4" height="20.8" fill="#FF4040"/>
<rect x="1430.8" y="134.2" width="4.8" height="7.6" fill="#FF4040"/>
<rect x="1440.0" y="126.9" width="1.4" height="16.3" fill="#FF4040"/>
<rect x="1438.3" y="135.9" width="4.8" height="4.2" fill="#FF4040"/>
<rect x="1446.0" y="102.8" width="1.4" height="28.0" fill="#FF4040"/>
<rect x="1444.3" y="107.0" width="4.8" height="22.6" fill="#FF4040"/>
<path d="M115.5,450.4 L122.1,444.0 L122.1,442.4 L118.1,442.4 L118.1,435.1 L112.9,435.1 L112.9,442.4 L108.9,442.4 L108.9,444.0 Z" fill="none" stroke="#00EC00" stroke-width="1.5" stroke-linejoin="round"/>
<path d="M292.3,95.7 L298.90000000000003,89.3 L298.90000000000003,87.7 L294.90000000000003,87.7 L294.90000000000003,80.6 L289.7,80.6 L289.7,87.7 L285.7,87.7 L285.7,89.3 Z" fill="none" stroke="#00EC00" stroke-width="1.5" stroke-linejoin="round"/>
<path d="M310.4,55.4 L317.0,49.0 L317.0,47.4 L313.0,47.4 L313.0,41.9 L307.79999999999995,41.9 L307.79999999999995,47.4 L303.79999999999995,47.4 L303.79999999999995,49.0 Z" fill="none" stroke="#00EC00" stroke-width="1.5" stroke-linejoin="round"/>
<path d="M745.3,259.2 L751.9,252.79999999999998 L751.9,251.2 L747.9,251.2 L747.9,244.6 L742.6999999999999,244.6 L742.6999999999999,251.2 L738.6999999999999,251.2 L738.6999999999999,252.79999999999998 Z" fill="none" stroke="#00EC00" stroke-width="1.5" stroke-linejoin="round"/>
<path d="M764.8,250.6 L771.4,244.2 L771.4,242.6 L767.4,242.6 L767.4,235.9 L762.1999999999999,235.9 L762.1999999999999,242.6 L758.1999999999999,242.6 L758.1999999999999,244.2 Z" fill="none" stroke="#00EC00" stroke-width="1.5" stroke-linejoin="round"/>
<path d="M784.2,216.9 L790.8000000000001,210.5 L790.8000000000001,208.9 L786.8000000000001,208.9 L786.8000000000001,202.9 L781.6,202.9 L781.6,208.9 L777.6,208.9 L777.6,210.5 Z" fill="none" stroke="#00EC00" stroke-width="1.5" stroke-linejoin="round"/>
<path d="M916.4,207.0 L923.0,200.6 L923.0,199.0 L919.0,199.0 L919.0,192.2 L913.8,192.2 L913.8,199.0 L909.8,199.0 L909.8,200.6 Z" fill="none" stroke="#00EC00" stroke-width="1.5" stroke-linejoin="round"/>
<path d="M1017,170.8 L1023.6,164.4 L1023.6,162.8 L1019.6,162.8 L1019.6,156.0 L1014.4,156.0 L1014.4,162.8 L1010.4,162.8 L1010.4,164.4 Z" fill="none" stroke="#00EC00" stroke-width="1.5" stroke-linejoin="round"/>
<path d="M1105.5,99.2 L1112.1,92.8 L1112.1,91.2 L1108.1,91.2 L1108.1,84.1 L1102.9,84.1 L1102.9,91.2 L1098.9,91.2 L1098.9,92.8 Z" fill="none" stroke="#00EC00" stroke-width="1.5" stroke-linejoin="round"/>
<path d="M1282.7,118.4 L1289.3,112.0 L1289.3,110.4 L1285.3,110.4 L1285.3,103.6 L1280.1000000000001,103.6 L1280.1000000000001,110.4 L1276.1000000000001,110.4 L1276.1000000000001,112.0 Z" fill="none" stroke="#00EC00" stroke-width="1.5" stroke-linejoin="round"/>
<path d="M1332,111.0 L1338.6,104.6 L1338.6,103.0 L1334.6,103.0 L1334.6,96.6 L1329.4,96.6 L1329.4,103.0 L1325.4,103.0 L1325.4,104.6 Z" fill="none" stroke="#00EC00" stroke-width="1.5" stroke-linejoin="round"/>
<path d="M1383.4,89.9 L1390.0,83.5 L1390.0,81.9 L1386.0,81.9 L1386.0,75.3 L1380.8000000000002,75.3 L1380.8000000000002,81.9 L1376.8000000000002,81.9 L1376.8000000000002,83.5 Z" fill="none" stroke="#00EC00" stroke-width="1.5" stroke-linejoin="round"/>
<path d="M1056,89.2 L1063.7,80.4 L1059.1,80.4 L1059.1,72.6 L1052.9,72.6 L1052.9,80.4 L1048.3,80.4 Z" fill="#00FF00"/>
<path d="M46.7,479.3 L54.400000000000006,487.6 L49.800000000000004,487.6 L49.800000000000004,495.7 L43.6,495.7 L43.6,487.6 L39.0,487.6 Z" fill="#FF0000"/>
<path d="M166.7,488 L174.39999999999998,496.3 L169.79999999999998,496.3 L169.79999999999998,504.5 L163.6,504.5 L163.6,496.3 L159.0,496.3 Z" fill="#FF0000"/>
<path d="M387,174.8 L394.7,183.10000000000002 L390.1,183.10000000000002 L390.1,190.5 L383.9,190.5 L383.9,183.10000000000002 L379.3,183.10000000000002 Z" fill="#FF0000"/>
<path d="M550.3,305 L558.0,313.3 L553.4,313.3 L553.4,321.4 L547.1999999999999,321.4 L547.1999999999999,313.3 L542.5999999999999,313.3 Z" fill="#FF0000"/>
<path d="M619.2,318.7 L626.9000000000001,327.0 L622.3000000000001,327.0 L622.3000000000001,335 L616.1,335 L616.1,327.0 L611.5,327.0 Z" fill="#FF0000"/>
<path d="M664,316.9 L671.7,325.2 L667.1,325.2 L667.1,333.7 L660.9,333.7 L660.9,325.2 L656.3,325.2 Z" fill="#FF0000"/>
<path d="M682.6,332.3 L690.3000000000001,340.6 L685.7,340.6 L685.7,348.6 L679.5,348.6 L679.5,340.6 L674.9,340.6 Z" fill="#FF0000"/>
<path d="M947.8,267.7 L955.5,276.0 L950.9,276.0 L950.9,284 L944.6999999999999,284 L944.6999999999999,276.0 L940.0999999999999,276.0 Z" fill="#FF0000"/>
<path d="M1119,168.5 L1126.7,176.8 L1122.1,176.8 L1122.1,185 L1115.9,185 L1115.9,176.8 L1111.3,176.8 Z" fill="#FF0000"/>
<path d="M1194.2,174.8 L1201.9,183.10000000000002 L1197.3,183.10000000000002 L1197.3,190.9 L1191.1000000000001,190.9 L1191.1000000000001,183.10000000000002 L1186.5,183.10000000000002 Z" fill="#FF0000"/>
<path d="M1401,149.2 L1408.7,157.5 L1404.1,157.5 L1404.1,165.5 L1397.9,165.5 L1397.9,157.5 L1393.3,157.5 Z" fill="#FF0000"/>
<path d="M201,15.5 L208.7,23.8 L204.1,23.8 L204.1,31.5 L197.9,31.5 L197.9,23.8 L193.3,23.8 Z" fill="#FF0000"/>
<path d="M0.5,449 L12.3,464 L12.3,518.5 L0.5,531.5 Z" fill="#444" fill-opacity="0.72" stroke="#777" stroke-opacity="0.8" stroke-width="1"/>
<path d="M1.6,481.5 L8.8,489 L1.6,496.5 Z" fill="#D89000"/>
<line x1="1" y1="94.4" x2="1468.8" y2="94.4" stroke="#E2E200" stroke-width="1.6"/>
<line x1="1" y1="179.8" x2="1468.8" y2="179.8" stroke="#E2E200" stroke-width="1.6"/>
<line x1="1" y1="218.9" x2="1468.8" y2="218.9" stroke="#E2E200" stroke-width="1.6"/>
<line x1="0" y1="396.3" x2="1468.8" y2="56.5" stroke="#E2E200" stroke-width="1.3"/>
<line x1="0" y1="502" x2="1468.8" y2="164.6" stroke="#E2E200" stroke-width="1.3"/>
<rect x="1.2" y="666.9" width="4.9" height="45.5" fill="#FF4040"/>
<rect x="7.2" y="675.4" width="4.9" height="37.0" fill="#00FFFF"/>
<rect x="13.2" y="671.2" width="4.9" height="41.2" fill="#00FFFF"/>
<rect x="19.2" y="676.8" width="4.9" height="35.6" fill="#FF4040"/>
<rect x="25.2" y="680.4" width="4.9" height="32.0" fill="#00FFFF"/>
<rect x="32.8" y="674.8" width="4.9" height="37.6" fill="#00FFFF"/>
<rect x="38.8" y="663.9" width="4.9" height="48.5" fill="#FF4040"/>
<rect x="44.8" y="659.3" width="4.9" height="53.1" fill="#FF4040"/>
<rect x="50.8" y="662.5" width="4.9" height="49.9" fill="#FF4040"/>
<rect x="56.8" y="656.6" width="4.9" height="55.8" fill="#00FFFF"/>
<rect x="64.2" y="661.9" width="4.9" height="50.5" fill="#00FFFF"/>
<rect x="70.2" y="663.9" width="4.9" height="48.5" fill="#FF4040"/>
<rect x="76.2" y="663.9" width="4.9" height="48.5" fill="#00FFFF"/>
<rect x="82.2" y="662.9" width="4.9" height="49.5" fill="#FF4040"/>
<rect x="88.2" y="664.5" width="4.9" height="47.9" fill="#FF4040"/>
<rect x="95.8" y="668.5" width="4.9" height="43.9" fill="#00FFFF"/>
<rect x="101.8" y="669.9" width="4.9" height="42.5" fill="#FF4040"/>
<rect x="107.8" y="668.5" width="4.9" height="43.9" fill="#FF4040"/>
<rect x="113.8" y="671.2" width="4.9" height="41.2" fill="#00FFFF"/>
<rect x="119.8" y="677.2" width="4.9" height="35.2" fill="#FF4040"/>
<rect x="127.2" y="670.8" width="4.9" height="41.6" fill="#FF4040"/>
<rect x="133.2" y="669.9" width="4.9" height="42.5" fill="#00FFFF"/>
<rect x="139.2" y="668.9" width="4.9" height="43.5" fill="#00FFFF"/>
<rect x="145.2" y="668.9" width="4.9" height="43.5" fill="#00FFFF"/>
<rect x="151.2" y="677.2" width="4.9" height="35.2" fill="#00FFFF"/>
<rect x="158.8" y="668.9" width="4.9" height="43.5" fill="#00FFFF"/>
<rect x="164.8" y="671.8" width="4.9" height="40.6" fill="#FF4040"/>
<rect x="170.8" y="668.5" width="4.9" height="43.9" fill="#FF4040"/>
<rect x="176.8" y="662.5" width="4.9" height="49.9" fill="#FF4040"/>
<rect x="182.8" y="652.0" width="4.9" height="60.4" fill="#FF4040"/>
<rect x="190.2" y="656.4" width="4.9" height="56.0" fill="#FF4040"/>
<rect x="196.2" y="654.6" width="4.9" height="57.8" fill="#00FFFF"/>
<rect x="202.2" y="636.7" width="4.9" height="75.7" fill="#FF4040"/>
<rect x="208.2" y="626.2" width="4.9" height="86.2" fill="#00FFFF"/>
<rect x="214.2" y="641.5" width="4.9" height="70.9" fill="#FF4040"/>
<rect x="221.8" y="623.3" width="4.9" height="89.1" fill="#FF4040"/>
<rect x="227.8" y="630.2" width="4.9" height="82.2" fill="#FF4040"/>
<rect x="233.8" y="591.9" width="4.9" height="120.5" fill="#FF4040"/>
<rect x="239.8" y="584.6" width="4.9" height="127.8" fill="#00FFFF"/>
<rect x="245.8" y="611.4" width="4.9" height="101.0" fill="#00FFFF"/>
<rect x="253.2" y="630.2" width="4.9" height="82.2" fill="#FF4040"/>
<rect x="259.2" y="633.8" width="4.9" height="78.6" fill="#FF4040"/>
<rect x="265.2" y="596.1" width="4.9" height="116.3" fill="#FF4040"/>
<rect x="271.2" y="594.9" width="4.9" height="117.5" fill="#FF4040"/>
<rect x="277.2" y="578.3" width="4.9" height="134.1" fill="#FF4040"/>
<rect x="284.8" y="576.7" width="4.9" height="135.7" fill="#00FFFF"/>
<rect x="290.8" y="572.3" width="4.9" height="140.1" fill="#FF4040"/>
<rect x="296.8" y="590.2" width="4.9" height="122.2" fill="#FF4040"/>
<rect x="302.8" y="567.8" width="4.9" height="144.6" fill="#FF4040"/>
<rect x="308.8" y="586.0" width="4.9" height="126.4" fill="#00FFFF"/>
<rect x="316.2" y="614.3" width="4.9" height="98.1" fill="#00FFFF"/>
<rect x="322.2" y="630.8" width="4.9" height="81.6" fill="#00FFFF"/>
<rect x="328.2" y="632.2" width="4.9" height="80.2" fill="#FF4040"/>
<rect x="334.2" y="630.8" width="4.9" height="81.6" fill="#FF4040"/>
<rect x="340.2" y="629.2" width="4.9" height="83.2" fill="#00FFFF"/>
<rect x="347.8" y="614.3" width="4.9" height="98.1" fill="#FF4040"/>
<rect x="353.8" y="629.2" width="4.9" height="83.2" fill="#00FFFF"/>
<rect x="359.8" y="627.2" width="4.9" height="85.2" fill="#FF4040"/>
<rect x="365.8" y="625.2" width="4.9" height="87.2" fill="#00FFFF"/>
<rect x="373.2" y="638.1" width="4.9" height="74.3" fill="#00FFFF"/>
<rect x="379.2" y="639.7" width="4.9" height="72.7" fill="#00FFFF"/>
<rect x="385.2" y="633.2" width="4.9" height="79.2" fill="#FF4040"/>
<rect x="391.2" y="611.4" width="4.9" height="101.0" fill="#FF4040"/>
<rect x="397.2" y="603.8" width="4.9" height="108.6" fill="#00FFFF"/>
<rect x="404.8" y="620.3" width="4.9" height="92.1" fill="#FF4040"/>
<rect x="410.8" y="616.3" width="4.9" height="96.1" fill="#00FFFF"/>
<rect x="416.8" y="614.9" width="4.9" height="97.5" fill="#00FFFF"/>
<rect x="422.8" y="630.8" width="4.9" height="81.6" fill="#FF4040"/>
<rect x="428.8" y="615.7" width="4.9" height="96.7" fill="#00FFFF"/>
<rect x="436.2" y="626.2" width="4.9" height="86.2" fill="#00FFFF"/>
<rect x="442.2" y="642.7" width="4.9" height="69.7" fill="#FF4040"/>
<rect x="448.2" y="638.5" width="4.9" height="73.9" fill="#00FFFF"/>
<rect x="454.2" y="631.6" width="4.9" height="80.8" fill="#FF4040"/>
<rect x="460.2" y="623.3" width="4.9" height="89.1" fill="#FF4040"/>
<rect x="467.8" y="629.2" width="4.9" height="83.2" fill="#00FFFF"/>
<rect x="473.8" y="631.6" width="4.9" height="80.8" fill="#FF4040"/>
<rect x="479.8" y="626.2" width="4.9" height="86.2" fill="#00FFFF"/>
<rect x="485.8" y="635.2" width="4.9" height="77.2" fill="#00FFFF"/>
<rect x="491.8" y="639.7" width="4.9" height="72.7" fill="#FF4040"/>
<rect x="499.2" y="626.2" width="4.9" height="86.2" fill="#00FFFF"/>
<rect x="505.2" y="644.1" width="4.9" height="68.3" fill="#00FFFF"/>
<rect x="511.3" y="637.1" width="4.9" height="75.3" fill="#00FFFF"/>
<rect x="517.2" y="656.4" width="4.9" height="56.0" fill="#FF4040"/>
<rect x="523.2" y="644.1" width="4.9" height="68.3" fill="#00FFFF"/>
<rect x="530.8" y="652.0" width="4.9" height="60.4" fill="#00FFFF"/>
<rect x="536.8" y="654.6" width="4.9" height="57.8" fill="#FF4040"/>
<rect x="542.8" y="659.0" width="4.9" height="53.4" fill="#00FFFF"/>
<rect x="548.8" y="638.1" width="4.9" height="74.3" fill="#FF4040"/>
<rect x="554.8" y="654.6" width="4.9" height="57.8" fill="#00FFFF"/>
<rect x="562.2" y="656.4" width="4.9" height="56.0" fill="#FF4040"/>
<rect x="568.2" y="652.0" width="4.9" height="60.4" fill="#FF4040"/>
<rect x="574.2" y="652.0" width="4.9" height="60.4" fill="#FF4040"/>
<rect x="580.2" y="641.1" width="4.9" height="71.3" fill="#00FFFF"/>
<rect x="586.2" y="653.0" width="4.9" height="59.4" fill="#00FFFF"/>
<rect x="593.8" y="652.0" width="4.9" height="60.4" fill="#FF4040"/>
<rect x="599.8" y="649.0" width="4.9" height="63.4" fill="#00FFFF"/>
<rect x="605.8" y="645.7" width="4.9" height="66.7" fill="#00FFFF"/>
<rect x="611.8" y="658.0" width="4.9" height="54.4" fill="#00FFFF"/>
<rect x="617.8" y="650.4" width="4.9" height="62.0" fill="#FF4040"/>
<rect x="625.2" y="648.6" width="4.9" height="63.8" fill="#FF4040"/>
<rect x="631.2" y="656.4" width="4.9" height="56.0" fill="#FF4040"/>
<rect x="637.2" y="653.0" width="4.9" height="59.4" fill="#00FFFF"/>
<rect x="643.2" y="658.0" width="4.9" height="54.4" fill="#00FFFF"/>
<rect x="649.2" y="654.6" width="4.9" height="57.8" fill="#00FFFF"/>
<rect x="656.8" y="659.0" width="4.9" height="53.4" fill="#00FFFF"/>
<rect x="662.8" y="659.0" width="4.9" height="53.4" fill="#00FFFF"/>
<rect x="668.8" y="659.0" width="4.9" height="53.4" fill="#00FFFF"/>
<rect x="674.8" y="666.9" width="4.9" height="45.5" fill="#FF4040"/>
<rect x="680.8" y="642.7" width="4.9" height="69.7" fill="#FF4040"/>
<rect x="688.2" y="648.6" width="4.9" height="63.8" fill="#00FFFF"/>
<rect x="694.2" y="648.6" width="4.9" height="63.8" fill="#FF4040"/>
<rect x="700.2" y="650.4" width="4.9" height="62.0" fill="#00FFFF"/>
<rect x="706.2" y="663.9" width="4.9" height="48.5" fill="#00FFFF"/>
<rect x="712.2" y="666.9" width="4.9" height="45.5" fill="#FF4040"/>
<rect x="719.8" y="647.1" width="4.9" height="65.3" fill="#00FFFF"/>
<rect x="725.8" y="642.7" width="4.9" height="69.7" fill="#FF4040"/>
<rect x="731.8" y="626.2" width="4.9" height="86.2" fill="#00FFFF"/>
<rect x="737.8" y="638.1" width="4.9" height="74.3" fill="#00FFFF"/>
<rect x="743.8" y="642.7" width="4.9" height="69.7" fill="#00FFFF"/>
<rect x="751.2" y="651.6" width="4.9" height="60.8" fill="#FF4040"/>
<rect x="757.2" y="642.7" width="4.9" height="69.7" fill="#FF4040"/>
<rect x="763.2" y="648.6" width="4.9" height="63.8" fill="#00FFFF"/>
<rect x="769.2" y="632.2" width="4.9" height="80.2" fill="#FF4040"/>
<rect x="775.2" y="644.1" width="4.9" height="68.3" fill="#FF4040"/>
<rect x="782.8" y="651.6" width="4.9" height="60.8" fill="#00FFFF"/>
<rect x="788.8" y="656.4" width="4.9" height="56.0" fill="#00FFFF"/>
<rect x="794.8" y="663.9" width="4.9" height="48.5" fill="#FF4040"/>
<rect x="800.8" y="652.0" width="4.9" height="60.4" fill="#00FFFF"/>
<rect x="806.8" y="668.3" width="4.9" height="44.1" fill="#FF4040"/>
<rect x="814.2" y="668.3" width="4.9" height="44.1" fill="#00FFFF"/>
<rect x="820.2" y="666.9" width="4.9" height="45.5" fill="#00FFFF"/>
<rect x="826.2" y="668.3" width="4.9" height="44.1" fill="#FF4040"/>
<rect x="832.2" y="652.0" width="4.9" height="60.4" fill="#FF4040"/>
<rect x="838.2" y="663.9" width="4.9" height="48.5" fill="#00FFFF"/>
<rect x="845.8" y="659.3" width="4.9" height="53.1" fill="#FF4040"/>
<rect x="851.8" y="662.5" width="4.9" height="49.9" fill="#00FFFF"/>
<rect x="857.8" y="666.9" width="4.9" height="45.5" fill="#FF4040"/>
<rect x="863.8" y="663.9" width="4.9" height="48.5" fill="#00FFFF"/>
<rect x="869.8" y="671.2" width="4.9" height="41.2" fill="#FF4040"/>
<rect x="877.2" y="659.3" width="4.9" height="53.1" fill="#FF4040"/>
<rect x="883.2" y="663.9" width="4.9" height="48.5" fill="#FF4040"/>
<rect x="889.2" y="669.9" width="4.9" height="42.5" fill="#00FFFF"/>
<rect x="895.2" y="669.9" width="4.9" height="42.5" fill="#FF4040"/>
<rect x="901.2" y="666.9" width="4.9" height="45.5" fill="#FF4040"/>
<rect x="908.8" y="669.9" width="4.9" height="42.5" fill="#00FFFF"/>
<rect x="914.8" y="669.9" width="4.9" height="42.5" fill="#FF4040"/>
<rect x="920.8" y="660.9" width="4.9" height="51.5" fill="#FF4040"/>
<rect x="926.8" y="666.9" width="4.9" height="45.5" fill="#00FFFF"/>
<rect x="932.8" y="650.4" width="4.9" height="62.0" fill="#FF4040"/>
<rect x="940.2" y="668.3" width="4.9" height="44.1" fill="#00FFFF"/>
<rect x="946.2" y="671.2" width="4.9" height="41.2" fill="#FF4040"/>
<rect x="952.2" y="666.9" width="4.9" height="45.5" fill="#00FFFF"/>
<rect x="958.2" y="668.3" width="4.9" height="44.1" fill="#FF4040"/>
<rect x="964.2" y="670.8" width="4.9" height="41.6" fill="#00FFFF"/>
<rect x="971.8" y="663.9" width="4.9" height="48.5" fill="#00FFFF"/>
<rect x="977.8" y="660.9" width="4.9" height="51.5" fill="#FF4040"/>
<rect x="983.8" y="658.0" width="4.9" height="54.4" fill="#FF4040"/>
<rect x="989.8" y="638.1" width="4.9" height="74.3" fill="#FF4040"/>
<rect x="995.8" y="642.7" width="4.9" height="69.7" fill="#00FFFF"/>
<rect x="1003.2" y="655.0" width="4.9" height="57.4" fill="#00FFFF"/>
<rect x="1009.2" y="655.0" width="4.9" height="57.4" fill="#00FFFF"/>
<rect x="1015.2" y="653.4" width="4.9" height="59.0" fill="#FF4040"/>
<rect x="1021.2" y="656.4" width="4.9" height="56.0" fill="#FF4040"/>
<rect x="1027.2" y="644.1" width="4.9" height="68.3" fill="#FF4040"/>
<rect x="1034.8" y="648.6" width="4.9" height="63.8" fill="#00FFFF"/>
<rect x="1040.8" y="647.1" width="4.9" height="65.3" fill="#00FFFF"/>
<rect x="1046.8" y="636.7" width="4.9" height="75.7" fill="#00FFFF"/>
<rect x="1052.8" y="641.1" width="4.9" height="71.3" fill="#FF4040"/>
<rect x="1058.8" y="638.1" width="4.9" height="74.3" fill="#FF4040"/>
<rect x="1066.2" y="638.1" width="4.9" height="74.3" fill="#FF4040"/>
<rect x="1072.2" y="615.7" width="4.9" height="96.7" fill="#FF4040"/>
<rect x="1078.2" y="635.2" width="4.9" height="77.2" fill="#00FFFF"/>
<rect x="1084.2" y="618.7" width="4.9" height="93.7" fill="#FF4040"/>
<rect x="1090.2" y="621.7" width="4.9" height="90.7" fill="#00FFFF"/>
<rect x="1097.8" y="633.8" width="4.9" height="78.6" fill="#00FFFF"/>
<rect x="1103.8" y="642.7" width="4.9" height="69.7" fill="#00FFFF"/>
<rect x="1109.8" y="635.2" width="4.9" height="77.2" fill="#00FFFF"/>
<rect x="1115.8" y="632.2" width="4.9" height="80.2" fill="#00FFFF"/>
<rect x="1123.2" y="647.1" width="4.9" height="65.3" fill="#00FFFF"/>
<rect x="1129.2" y="647.1" width="4.9" height="65.3" fill="#FF4040"/>
<rect x="1135.2" y="644.1" width="4.9" height="68.3" fill="#00FFFF"/>
<rect x="1141.2" y="647.1" width="4.9" height="65.3" fill="#00FFFF"/>
<rect x="1147.2" y="641.1" width="4.9" height="71.3" fill="#FF4040"/>
<rect x="1154.8" y="642.7" width="4.9" height="69.7" fill="#00FFFF"/>
<rect x="1160.8" y="642.7" width="4.9" height="69.7" fill="#00FFFF"/>
<rect x="1166.8" y="656.4" width="4.9" height="56.0" fill="#FF4040"/>
<rect x="1172.8" y="663.9" width="4.9" height="48.5" fill="#00FFFF"/>
<rect x="1178.8" y="665.3" width="4.9" height="47.1" fill="#00FFFF"/>
<rect x="1186.2" y="666.9" width="4.9" height="45.5" fill="#FF4040"/>
<rect x="1192.2" y="658.0" width="4.9" height="54.4" fill="#FF4040"/>
<rect x="1198.2" y="650.4" width="4.9" height="62.0" fill="#00FFFF"/>
<rect x="1204.2" y="644.1" width="4.9" height="68.3" fill="#FF4040"/>
<rect x="1210.2" y="641.1" width="4.9" height="71.3" fill="#00FFFF"/>
<rect x="1217.8" y="652.0" width="4.9" height="60.4" fill="#00FFFF"/>
<rect x="1223.8" y="659.3" width="4.9" height="53.1" fill="#FF4040"/>
<rect x="1229.8" y="654.0" width="4.9" height="58.4" fill="#00FFFF"/>
<rect x="1235.8" y="655.0" width="4.9" height="57.4" fill="#00FFFF"/>
<rect x="1241.8" y="656.4" width="4.9" height="56.0" fill="#FF4040"/>
<rect x="1249.2" y="658.0" width="4.9" height="54.4" fill="#00FFFF"/>
<rect x="1255.2" y="658.0" width="4.9" height="54.4" fill="#FF4040"/>
<rect x="1261.2" y="656.4" width="4.9" height="56.0" fill="#FF4040"/>
<rect x="1267.2" y="635.2" width="4.9" height="77.2" fill="#FF4040"/>
<rect x="1273.2" y="630.8" width="4.9" height="81.6" fill="#00FFFF"/>
<rect x="1280.8" y="647.1" width="4.9" height="65.3" fill="#00FFFF"/>
<rect x="1286.8" y="655.0" width="4.9" height="57.4" fill="#00FFFF"/>
<rect x="1292.8" y="658.0" width="4.9" height="54.4" fill="#FF4040"/>
<rect x="1298.8" y="656.4" width="4.9" height="56.0" fill="#FF4040"/>
<rect x="1304.8" y="658.0" width="4.9" height="54.4" fill="#FF4040"/>
<rect x="1312.2" y="658.0" width="4.9" height="54.4" fill="#00FFFF"/>
<rect x="1318.2" y="660.9" width="4.9" height="51.5" fill="#FF4040"/>
<rect x="1324.2" y="656.4" width="4.9" height="56.0" fill="#00FFFF"/>
<rect x="1330.2" y="658.0" width="4.9" height="54.4" fill="#00FFFF"/>
<rect x="1336.2" y="663.9" width="4.9" height="48.5" fill="#00FFFF"/>
<rect x="1343.8" y="668.3" width="4.9" height="44.1" fill="#FF4040"/>
<rect x="1349.8" y="665.3" width="4.9" height="47.1" fill="#FF4040"/>
<rect x="1355.8" y="663.9" width="4.9" height="48.5" fill="#00FFFF"/>
<rect x="1361.8" y="668.3" width="4.9" height="44.1" fill="#FF4040"/>
<rect x="1367.8" y="656.4" width="4.9" height="56.0" fill="#FF4040"/>
<rect x="1375.2" y="655.0" width="4.9" height="57.4" fill="#00FFFF"/>
<rect x="1381.2" y="665.3" width="4.9" height="47.1" fill="#00FFFF"/>
<rect x="1387.2" y="652.0" width="4.9" height="60.4" fill="#00FFFF"/>
<rect x="1393.2" y="660.9" width="4.9" height="51.5" fill="#00FFFF"/>
<rect x="1399.2" y="665.3" width="4.9" height="47.1" fill="#FF4040"/>
<rect x="1406.8" y="666.9" width="4.9" height="45.5" fill="#FF4040"/>
<rect x="1412.8" y="669.9" width="4.9" height="42.5" fill="#00FFFF"/>
<rect x="1418.8" y="669.9" width="4.9" height="42.5" fill="#00FFFF"/>
<rect x="1424.8" y="669.9" width="4.9" height="42.5" fill="#00FFFF"/>
<rect x="1430.8" y="665.3" width="4.9" height="47.1" fill="#FF4040"/>
<rect x="1438.2" y="669.9" width="4.9" height="42.5" fill="#FF4040"/>
<rect x="1444.2" y="659.3" width="4.9" height="53.1" fill="#FF4040"/>
<polyline points="3.7,674.9 9.7,674.6 15.7,673.5 21.7,673.4 27.7,674.1 35.2,675.7 41.2,673.4 47.2,671.0 53.2,668.2 59.2,663.4 66.7,660.9 72.7,660.9 78.7,661.8 84.7,661.8 90.7,663.4 98.2,664.7 104.2,665.9 110.2,666.8 116.2,668.5 122.2,671.0 129.7,671.5 135.7,671.5 141.7,671.6 147.7,671.1 153.7,671.1 161.2,670.7 167.2,671.1 173.2,671.0 179.2,669.8 185.2,664.7 192.7,662.2 198.7,658.8 204.7,652.5 210.7,645.2 216.7,643.1 224.2,636.5 230.2,631.6 236.2,622.6 242.2,614.3 248.2,608.3 255.7,609.7 261.7,610.4 267.7,611.2 273.7,613.3 279.7,606.7 287.2,595.9 293.2,583.7 299.2,582.5 305.2,577.0 311.2,578.6 318.7,586.1 324.7,597.8 330.7,606.2 336.7,618.8 342.7,627.5 350.2,627.5 356.2,627.2 362.2,626.2 368.2,625.1 375.7,626.8 381.7,631.9 387.7,632.7 393.7,629.5 399.7,625.2 407.2,621.7 413.2,617.0 419.2,613.4 425.2,617.2 431.2,619.6 438.7,620.8 444.7,626.1 450.7,630.8 456.7,631.0 462.7,632.5 470.2,633.1 476.2,630.8 482.2,628.4 488.2,629.1 494.2,632.4 501.7,631.8 507.7,634.3 513.7,636.5 519.7,640.7 525.7,641.6 533.2,646.7 539.2,648.8 545.2,653.2 551.2,649.6 557.2,651.7 564.7,652.5 570.7,652.0 576.7,650.6 582.7,651.2 588.7,650.9 596.2,650.0 602.2,649.4 608.2,648.2 614.2,651.5 620.2,651.0 627.7,650.3 633.7,651.8 639.7,653.3 645.7,653.3 651.7,654.1 659.2,656.2 665.2,656.7 671.2,657.9 677.2,659.7 683.2,657.3 690.7,655.2 696.7,653.2 702.7,651.5 708.7,650.9 714.7,655.7 722.2,655.4 728.2,654.2 734.2,649.4 740.2,644.2 746.2,639.4 753.7,640.3 759.7,640.3 765.7,644.8 771.7,643.6 777.7,643.8 785.2,643.8 791.2,646.6 797.2,649.6 803.2,653.6 809.2,658.4 816.7,661.8 822.7,663.9 828.7,664.7 834.7,664.7 840.7,663.9 848.2,662.1 854.2,661.2 860.2,660.9 866.2,663.3 872.2,664.8 879.7,664.8 885.7,665.1 891.7,665.7 897.7,666.8 903.7,666.0 911.2,668.1 917.2,669.3 923.2,667.5 929.2,666.9 935.2,663.6 942.7,663.3 948.7,663.6 954.7,664.7 960.7,665.0 966.7,669.1 974.2,668.2 980.2,666.2 986.2,664.4 992.2,658.4 998.2,652.7 1005.7,650.9 1011.7,649.8 1017.7,648.8 1023.7,652.5 1029.7,652.8 1037.2,651.5 1043.2,649.9 1049.2,646.6 1055.2,643.5 1061.2,642.3 1068.7,640.2 1074.7,634.0 1080.7,633.7 1086.7,629.2 1092.7,625.9 1100.2,625.0 1106.2,630.4 1112.2,630.4 1118.2,633.1 1125.7,638.2 1131.7,640.8 1137.7,641.1 1143.7,643.5 1149.7,645.3 1157.2,644.4 1163.2,643.5 1169.2,646.0 1175.2,649.4 1181.2,654.2 1188.7,659.0 1194.7,662.1 1200.7,660.9 1206.7,656.9 1212.7,652.1 1220.2,649.1 1226.2,649.4 1232.2,650.1 1238.2,652.3 1244.2,655.3 1251.7,656.5 1257.7,656.3 1263.7,656.7 1269.7,652.8 1275.7,647.7 1283.2,645.5 1289.2,644.9 1295.2,645.2 1301.2,649.4 1307.2,654.9 1314.7,657.0 1320.7,658.2 1326.7,657.9 1332.7,658.2 1338.7,659.4 1346.2,661.5 1352.2,662.4 1358.2,663.9 1364.2,665.9 1370.2,664.4 1377.7,661.8 1383.7,661.8 1389.7,659.4 1395.7,657.9 1401.7,659.7 1409.2,662.1 1415.2,663.0 1421.2,666.6 1427.2,668.4 1433.2,668.4 1440.7,668.9 1446.7,666.8" fill="none" stroke="#F0F0F0" stroke-width="1.2" stroke-linejoin="round"/>
<polyline points="3.7,673.6 9.7,673.7 15.7,673.4 21.7,673.7 27.7,674.3 35.2,674.3 41.2,673.3 47.2,671.8 53.2,670.6 59.2,668.8 66.7,668.3 72.7,667.1 78.7,666.4 84.7,665.0 90.7,663.4 98.2,662.8 104.2,663.4 110.2,664.3 116.2,665.2 122.2,667.2 129.7,668.1 135.7,668.7 141.7,669.2 147.7,669.8 153.7,671.1 161.2,671.1 167.2,671.3 173.2,671.3 179.2,670.5 185.2,667.9 192.7,666.5 198.7,665.0 204.7,661.7 210.7,657.5 216.7,653.9 224.2,649.4 230.2,645.2 236.2,637.5 242.2,629.8 248.2,625.7 255.7,623.1 261.7,621.0 267.7,616.9 273.7,613.8 279.7,607.5 287.2,602.8 293.2,597.0 299.2,596.8 305.2,595.2 311.2,592.6 318.7,591.0 324.7,590.7 330.7,594.3 336.7,597.9 342.7,603.0 350.2,606.8 356.2,612.5 362.2,616.2 368.2,621.9 375.7,627.2 381.7,629.7 387.7,629.9 393.7,627.8 399.7,625.2 407.2,624.3 413.2,624.5 419.2,623.0 425.2,623.4 431.2,622.4 438.7,621.2 444.7,621.5 450.7,622.1 456.7,624.1 462.7,626.0 470.2,626.9 476.2,628.5 482.2,629.6 488.2,630.0 494.2,632.4 501.7,632.4 507.7,632.6 513.7,632.4 519.7,634.9 525.7,637.0 533.2,639.3 539.2,641.6 545.2,644.8 551.2,645.1 557.2,646.6 564.7,649.6 570.7,650.4 576.7,651.9 582.7,650.4 588.7,651.3 596.2,651.3 602.2,650.7 608.2,649.4 614.2,651.4 620.2,651.0 627.7,650.2 633.7,650.6 639.7,650.7 645.7,652.4 651.7,652.6 659.2,653.3 665.2,654.3 671.2,655.6 677.2,656.5 683.2,655.7 690.7,655.7 696.7,654.9 702.7,654.7 708.7,655.3 714.7,656.5 722.2,655.3 728.2,653.7 734.2,650.4 740.2,647.5 746.2,647.5 753.7,647.8 759.7,647.2 765.7,647.1 771.7,643.9 777.7,641.6 785.2,642.1 791.2,643.4 797.2,647.2 803.2,648.6 809.2,651.1 816.7,652.8 822.7,655.2 828.7,657.2 834.7,659.2 840.7,661.2 848.2,661.9 854.2,662.5 860.2,662.8 866.2,664.0 872.2,664.3 879.7,663.4 885.7,663.1 891.7,663.3 897.7,665.1 903.7,665.4 911.2,666.4 917.2,667.2 923.2,666.6 929.2,666.9 935.2,664.8 942.7,665.7 948.7,666.4 954.7,666.1 960.7,666.0 966.7,666.3 974.2,665.8 980.2,664.9 986.2,664.6 992.2,661.7 998.2,660.9 1005.7,659.6 1011.7,658.0 1017.7,656.6 1023.7,655.4 1029.7,652.7 1037.2,651.2 1043.2,649.8 1049.2,647.7 1055.2,648.0 1061.2,647.6 1068.7,645.9 1074.7,641.9 1080.7,640.1 1086.7,636.4 1092.7,634.1 1100.2,632.6 1106.2,632.2 1112.2,632.0 1118.2,631.1 1125.7,632.0 1131.7,632.9 1137.7,635.8 1143.7,636.9 1149.7,639.2 1157.2,641.3 1163.2,642.2 1169.2,643.5 1175.2,646.4 1181.2,649.7 1188.7,651.7 1194.7,652.8 1200.7,653.4 1206.7,653.1 1212.7,653.1 1220.2,654.1 1226.2,655.7 1232.2,655.5 1238.2,654.6 1244.2,653.7 1251.7,652.8 1257.7,652.8 1263.7,653.4 1269.7,652.5 1275.7,651.5 1283.2,651.0 1289.2,650.6 1295.2,651.0 1301.2,651.1 1307.2,651.3 1314.7,651.3 1320.7,651.6 1326.7,651.6 1332.7,653.8 1338.7,657.1 1346.2,659.3 1352.2,660.3 1358.2,660.9 1364.2,662.1 1370.2,661.9 1377.7,661.6 1383.7,662.1 1389.7,661.6 1395.7,661.9 1401.7,662.1 1409.2,661.9 1415.2,662.4 1421.2,663.0 1427.2,663.1 1433.2,664.0 1440.7,665.5 1446.7,664.9" fill="none" stroke="#F4F400" stroke-width="1.2" stroke-linejoin="round"/>
<clipPath id="kc"><rect x="0" y="715" width="1468" height="168"/></clipPath>
<g clip-path="url(#kc)">
<polyline points="3.7,854.4 9.7,854.5 15.7,856.1 21.7,856.8 27.7,858.7 35.2,861.3 41.2,857.6 47.2,848.2 53.2,837.8 59.2,828.5 66.7,821.0 72.7,814.8 78.7,812.1 84.7,808.4 90.7,804.4 98.2,806.8 104.2,807.3 110.2,805.6 116.2,808.5 122.2,813.8 129.7,815.3 135.7,814.8 141.7,816.3 147.7,820.2 153.7,827.6 161.2,835.2 167.2,832.6 173.2,823.8 179.2,813.4 185.2,803.3 192.7,794.9 198.7,788.7 204.7,783.0 210.7,779.5 216.7,777.2 224.2,777.4 230.2,775.8 236.2,773.5 242.2,773.2 248.2,775.2 255.7,777.4 261.7,777.6 267.7,777.4 273.7,775.6 279.7,773.5 287.2,772.6 293.2,774.8 299.2,774.4 305.2,773.5 311.2,776.4 318.7,785.0 324.7,795.2 330.7,802.4 336.7,807.3 342.7,812.2 350.2,815.5 356.2,818.4 362.2,822.2 368.2,829.5 375.7,835.7 381.7,841.9 387.7,839.9 393.7,830.8 399.7,820.8 407.2,810.4 413.2,800.9 419.2,796.0 425.2,793.6 431.2,794.0 438.7,798.1 444.7,806.8 450.7,818.2 456.7,824.6 462.7,826.5 470.2,827.2 476.2,824.4 482.2,821.6 488.2,820.2 494.2,814.6 501.7,814.6 507.7,818.7 513.7,826.0 519.7,832.9 525.7,840.3 533.2,845.9 539.2,850.7 545.2,855.3 551.2,856.2 557.2,856.3 564.7,856.4 570.7,853.7 576.7,846.1 582.7,843.3 588.7,842.8 596.2,839.8 602.2,836.9 608.2,839.5 614.2,843.7 620.2,842.2 627.7,836.6 633.7,830.7 639.7,824.5 645.7,818.8 651.7,816.7 659.2,818.7 665.2,823.6 671.2,830.6 677.2,835.8 683.2,832.4 690.7,826.8 696.7,819.8 702.7,816.7 708.7,816.5 714.7,815.7 722.2,814.0 728.2,808.7 734.2,802.5 740.2,797.9 746.2,796.5 753.7,795.9 759.7,793.1 765.7,791.4 771.7,787.8 777.7,783.9 785.2,783.7 791.2,786.6 797.2,788.7 803.2,796.4 809.2,804.9 816.7,814.0 822.7,821.8 828.7,827.5 834.7,826.8 840.7,822.0 848.2,815.6 854.2,814.0 860.2,811.4 866.2,813.7 872.2,814.4 879.7,810.7 885.7,804.1 891.7,798.6 897.7,792.3 903.7,788.1 911.2,786.8 917.2,786.6 923.2,789.7 929.2,800.5 935.2,810.5 942.7,819.8 948.7,825.3 954.7,830.2 960.7,829.8 966.7,829.0 974.2,825.5 980.2,818.5 986.2,811.1 992.2,802.3 998.2,795.8 1005.7,791.2 1011.7,787.5 1017.7,784.4 1023.7,783.3 1029.7,782.1 1037.2,782.0 1043.2,784.8 1049.2,791.1 1055.2,791.3 1061.2,788.3 1068.7,784.1 1074.7,782.0 1080.7,780.7 1086.7,778.1 1092.7,776.1 1100.2,776.6 1106.2,777.8 1112.2,779.5 1118.2,786.8 1125.7,797.9 1131.7,804.5 1137.7,808.6 1143.7,814.8 1149.7,819.6 1157.2,826.7 1163.2,835.2 1169.2,840.2 1175.2,845.7 1181.2,851.0 1188.7,853.8 1194.7,849.5 1200.7,842.7 1206.7,832.3 1212.7,823.9 1220.2,818.0 1226.2,813.6 1232.2,811.8 1238.2,811.8 1244.2,810.7 1251.7,813.0 1257.7,815.7 1263.7,811.4 1269.7,804.0 1275.7,799.3 1283.2,797.2 1289.2,798.2 1295.2,798.4 1301.2,795.8 1307.2,791.7 1314.7,789.6 1320.7,787.7 1326.7,787.1 1332.7,794.7 1338.7,804.0 1346.2,811.2 1352.2,815.1 1358.2,819.9 1364.2,823.3 1370.2,818.1 1377.7,812.8 1383.7,809.4 1389.7,811.4 1395.7,817.9 1401.7,823.6 1409.2,828.7 1415.2,833.2 1421.2,837.2 1427.2,840.3 1433.2,841.7 1440.7,842.3 1446.7,834.6" fill="none" stroke="#F4F400" stroke-width="1.15" stroke-linejoin="round"/>
<polyline points="3.7,852.9 9.7,854.6 15.7,859.5 21.7,858.2 27.7,862.5 35.2,866.5 41.2,850.3 47.2,829.3 53.2,817.0 59.2,809.9 66.7,806.0 72.7,802.3 78.7,806.9 84.7,800.9 90.7,796.4 98.2,811.5 104.2,808.4 110.2,802.1 116.2,814.3 122.2,824.6 129.7,818.2 135.7,814.0 141.7,819.3 147.7,828.0 153.7,842.3 161.2,850.4 167.2,827.3 173.2,806.3 179.2,792.5 185.2,783.1 192.7,778.2 198.7,776.2 204.7,771.8 210.7,772.5 216.7,772.5 224.2,777.8 230.2,772.5 236.2,769.0 242.2,772.4 248.2,779.2 255.7,781.7 261.7,778.0 267.7,777.0 273.7,772.0 279.7,769.2 287.2,770.9 293.2,779.2 299.2,773.5 305.2,771.7 311.2,782.2 318.7,802.1 324.7,815.7 330.7,816.8 336.7,817.0 342.7,822.1 350.2,822.0 356.2,824.1 362.2,829.9 368.2,844.2 375.7,848.0 381.7,854.4 387.7,835.7 393.7,812.8 399.7,800.7 407.2,789.4 413.2,781.9 419.2,786.2 425.2,788.9 431.2,794.8 438.7,806.4 444.7,824.3 450.7,840.9 456.7,837.4 462.7,830.4 470.2,828.6 476.2,818.6 482.2,815.9 488.2,817.4 494.2,803.4 501.7,814.7 507.7,826.9 513.7,840.6 519.7,846.9 525.7,854.9 533.2,857.1 539.2,860.4 545.2,864.6 551.2,857.8 557.2,856.4 564.7,856.6 570.7,848.3 576.7,830.9 582.7,837.6 588.7,841.8 596.2,833.9 602.2,831.1 608.2,844.8 614.2,852.1 620.2,839.1 627.7,825.3 633.7,819.1 639.7,812.0 645.7,807.5 651.7,812.5 659.2,822.8 665.2,833.2 671.2,844.5 677.2,846.3 683.2,825.5 690.7,815.5 696.7,805.8 702.7,810.5 708.7,816.2 714.7,814.0 722.2,810.6 728.2,798.1 734.2,790.1 740.2,788.6 746.2,793.9 753.7,794.7 759.7,787.3 765.7,788.1 771.7,780.6 777.7,776.0 785.2,783.3 791.2,792.6 797.2,792.8 803.2,811.9 809.2,821.9 816.7,832.3 822.7,837.4 828.7,839.0 834.7,825.4 840.7,812.5 848.2,802.8 854.2,810.8 860.2,806.2 866.2,818.2 872.2,815.7 879.7,803.3 885.7,791.0 891.7,787.5 897.7,779.7 903.7,779.8 911.2,784.2 917.2,786.1 923.2,796.1 929.2,822.2 935.2,830.5 942.7,838.4 948.7,836.3 954.7,839.9 960.7,829.0 966.7,827.3 974.2,818.6 980.2,804.6 986.2,796.2 992.2,784.8 998.2,782.8 1005.7,782.0 1011.7,780.0 1017.7,778.4 1023.7,781.1 1029.7,779.5 1037.2,781.8 1043.2,790.5 1049.2,803.8 1055.2,791.5 1061.2,782.5 1068.7,775.7 1074.7,777.6 1080.7,778.3 1086.7,772.8 1092.7,772.0 1100.2,777.8 1106.2,780.1 1112.2,783.0 1118.2,801.2 1125.7,820.2 1131.7,817.6 1137.7,816.8 1143.7,827.3 1149.7,829.3 1157.2,840.9 1163.2,852.1 1169.2,850.3 1175.2,856.8 1181.2,861.6 1188.7,859.3 1194.7,840.8 1200.7,829.2 1206.7,811.6 1212.7,807.1 1220.2,806.3 1226.2,804.8 1232.2,808.1 1238.2,811.7 1244.2,808.6 1251.7,817.5 1257.7,821.1 1263.7,802.7 1269.7,789.1 1275.7,790.1 1283.2,792.8 1289.2,800.1 1295.2,798.9 1301.2,790.6 1307.2,783.6 1314.7,785.3 1320.7,784.0 1326.7,785.7 1332.7,809.8 1338.7,822.6 1346.2,825.5 1352.2,822.9 1358.2,829.4 1364.2,830.3 1370.2,807.5 1377.7,802.3 1383.7,802.7 1389.7,815.2 1395.7,831.0 1401.7,834.8 1409.2,838.9 1415.2,842.2 1421.2,845.3 1427.2,846.6 1433.2,844.3 1440.7,843.6 1446.7,819.3" fill="none" stroke="#E8E8E8" stroke-width="1.15" stroke-linejoin="round"/>
<polyline points="3.7,850.0 9.7,854.9 15.7,866.3 21.7,861.0 27.7,870.1 35.2,876.7 41.2,835.7 47.2,791.5 53.2,775.3 59.2,772.8 66.7,775.9 72.7,777.4 78.7,796.4 84.7,786.0 90.7,780.4 98.2,821.0 104.2,810.5 110.2,795.3 116.2,826.0 122.2,846.0 129.7,824.0 135.7,812.2 141.7,825.2 147.7,843.5 153.7,871.9 161.2,880.8 167.2,816.7 173.2,771.3 179.2,750.8 185.2,742.8 192.7,744.6 198.7,751.3 204.7,749.2 210.7,758.5 216.7,763.1 224.2,778.5 230.2,766.0 236.2,760.0 242.2,771.0 248.2,787.3 255.7,790.5 261.7,778.9 267.7,776.2 273.7,764.8 279.7,760.6 287.2,767.6 293.2,788.1 299.2,771.7 305.2,768.2 311.2,793.9 318.7,836.4 324.7,856.8 330.7,845.6 336.7,836.3 342.7,841.9 350.2,835.0 356.2,835.6 362.2,845.4 368.2,873.5 375.7,872.6 381.7,879.3 387.7,827.5 393.7,776.7 399.7,760.6 407.2,747.6 413.2,743.9 419.2,766.8 425.2,779.4 431.2,796.4 438.7,822.8 444.7,859.1 450.7,886.4 456.7,863.0 462.7,838.1 470.2,831.4 476.2,807.2 482.2,804.7 488.2,811.8 494.2,781.0 501.7,814.8 507.7,843.4 513.7,869.7 519.7,874.7 525.7,884.3 533.2,879.5 539.2,879.8 545.2,883.1 551.2,861.1 557.2,856.8 564.7,857.0 570.7,837.7 576.7,800.4 582.7,826.3 588.7,839.8 596.2,822.1 602.2,819.5 608.2,855.4 614.2,868.9 620.2,832.9 627.7,802.8 633.7,795.8 639.7,787.0 645.7,784.8 651.7,804.1 659.2,830.9 665.2,852.6 671.2,872.5 677.2,867.4 683.2,811.8 690.7,793.0 696.7,777.8 702.7,798.1 708.7,815.6 714.7,810.6 722.2,803.9 728.2,777.0 734.2,765.3 740.2,770.0 746.2,788.6 753.7,792.4 759.7,775.8 765.7,781.6 771.7,766.2 777.7,760.2 785.2,782.4 791.2,804.5 797.2,801.0 803.2,842.8 809.2,856.0 816.7,868.7 822.7,868.5 828.7,861.8 834.7,822.5 840.7,793.4 848.2,777.1 854.2,804.4 860.2,795.9 866.2,827.2 872.2,818.5 879.7,788.5 885.7,764.8 891.7,765.3 897.7,754.6 903.7,763.2 911.2,779.0 917.2,785.1 923.2,808.8 929.2,865.4 935.2,870.4 942.7,875.5 948.7,858.3 954.7,859.4 960.7,827.4 966.7,824.0 974.2,804.7 980.2,776.6 986.2,766.4 992.2,749.7 998.2,756.8 1005.7,763.6 1011.7,765.1 1017.7,766.2 1023.7,776.6 1029.7,774.5 1037.2,781.4 1043.2,801.9 1049.2,829.1 1055.2,791.9 1061.2,770.9 1068.7,758.8 1074.7,769.0 1080.7,773.3 1086.7,762.3 1092.7,763.9 1100.2,780.0 1106.2,784.6 1112.2,790.0 1118.2,830.2 1125.7,864.9 1131.7,843.9 1137.7,833.2 1143.7,852.2 1149.7,848.5 1157.2,869.4 1163.2,885.8 1169.2,870.4 1175.2,878.9 1181.2,882.8 1188.7,870.3 1194.7,823.6 1200.7,802.3 1206.7,770.1 1212.7,773.4 1220.2,782.7 1226.2,787.1 1232.2,800.8 1238.2,811.6 1244.2,804.3 1251.7,826.6 1257.7,832.0 1263.7,785.4 1269.7,759.5 1275.7,771.7 1283.2,784.1 1289.2,804.1 1295.2,799.9 1301.2,780.2 1307.2,767.3 1314.7,776.8 1320.7,776.6 1326.7,783.0 1332.7,840.2 1338.7,859.8 1346.2,854.3 1352.2,838.7 1358.2,848.5 1364.2,844.2 1370.2,786.5 1377.7,781.2 1383.7,789.2 1389.7,823.0 1395.7,857.2 1401.7,857.4 1409.2,859.3 1415.2,860.2 1421.2,861.4 1427.2,859.2 1433.2,849.5 1440.7,846.2 1446.7,788.6" fill="none" stroke="#F800F8" stroke-width="1.15" stroke-linejoin="round"/>
</g>
<rect x="0" y="537.9" width="1505" height="1.6" fill="#880000"/>
<rect x="0" y="712.6" width="1505" height="2" fill="#880000"/>
<rect x="1468.95" y="11" width="1.7" height="872" fill="#880000"/>
<circle cx="225" cy="24.3" r="9.1" fill="#6e6e6e"/>
<path d="M220.4,22.7 L225,27.3 L229.6,22.7" fill="none" stroke="#2a2a2a" stroke-width="1.6"/>
<circle cx="11.7" cy="551.2" r="9.0" fill="#6e6e6e"/>
<path d="M7.1,549.6 L11.7,554.2 L16.299999999999997,549.6" fill="none" stroke="#2a2a2a" stroke-width="1.6"/>
<circle cx="11.7" cy="727.2" r="9.0" fill="#6e6e6e"/>
<path d="M7.1,725.6 L11.7,730.2 L16.299999999999997,725.6" fill="none" stroke="#2a2a2a" stroke-width="1.6"/>
<path d="M1427.3,17.2 L1435.4,25.3 L1427.3,33.4 L1419.2,25.3 Z" fill="none" stroke="#626262" stroke-width="1.1"/>
<rect x="1446.6" y="17.8" width="16.8" height="15" rx="3" fill="none" stroke="#585858" stroke-width="1.4"/>
<rect x="1456.4" y="20" width="4.9" height="9.6" fill="#8c8c8c"/>
<filter id="nf" x="0" y="0" width="100%" height="100%" filterUnits="userSpaceOnUse" primitiveUnits="userSpaceOnUse"><feOffset dx="0" dy="0"/></filter>
<g filter="url(#nf)">
<text x="1495" y="42.0" font-family="Liberation Sans, Arial, sans-serif" font-size="18" fill="#C80000" stroke="#000" stroke-width="0.35">1800</text>
<text x="1495" y="82.0" font-family="Liberation Sans, Arial, sans-serif" font-size="18" fill="#C80000" stroke="#000" stroke-width="0.35">1750</text>
<text x="1495" y="121.7" font-family="Liberation Sans, Arial, sans-serif" font-size="18" fill="#C80000" stroke="#000" stroke-width="0.35">1700</text>
<text x="1495" y="161.5" font-family="Liberation Sans, Arial, sans-serif" font-size="18" fill="#C80000" stroke="#000" stroke-width="0.35">1650</text>
<text x="1495" y="201.1" font-family="Liberation Sans, Arial, sans-serif" font-size="18" fill="#C80000" stroke="#000" stroke-width="0.35">1600</text>
<text x="1495" y="240.9" font-family="Liberation Sans, Arial, sans-serif" font-size="18" fill="#C80000" stroke="#000" stroke-width="0.35">1550</text>
<text x="1495" y="280.79999999999995" font-family="Liberation Sans, Arial, sans-serif" font-size="18" fill="#C80000" stroke="#000" stroke-width="0.35">1500</text>
<text x="1495" y="320.5" font-family="Liberation Sans, Arial, sans-serif" font-size="18" fill="#C80000" stroke="#000" stroke-width="0.35">1450</text>
<text x="1495" y="360.29999999999995" font-family="Liberation Sans, Arial, sans-serif" font-size="18" fill="#C80000" stroke="#000" stroke-width="0.35">1400</text>
<text x="1495" y="400.09999999999997" font-family="Liberation Sans, Arial, sans-serif" font-size="18" fill="#C80000" stroke="#000" stroke-width="0.35">1350</text>
<text x="1495" y="440.0" font-family="Liberation Sans, Arial, sans-serif" font-size="18" fill="#C80000" stroke="#000" stroke-width="0.35">1300</text>
<text x="1495" y="479.7" font-family="Liberation Sans, Arial, sans-serif" font-size="18" fill="#C80000" stroke="#000" stroke-width="0.35">1250</text>
<text x="1495" y="519.3" font-family="Liberation Sans, Arial, sans-serif" font-size="18" fill="#C80000" stroke="#000" stroke-width="0.35">1200</text>
<text x="1485" y="596.0" font-family="Liberation Sans, Arial, sans-serif" font-size="18" fill="#C80000" stroke="#000" stroke-width="0.35">15000</text>
<text x="1485" y="636.5" font-family="Liberation Sans, Arial, sans-serif" font-size="18" fill="#C80000" stroke="#000" stroke-width="0.35">10000</text>
<text x="1495.3" y="676.9" font-family="Liberation Sans, Arial, sans-serif" font-size="18" fill="#C80000" stroke="#000" stroke-width="0.35">5000</text>
<text x="1473.5" y="709" font-family="Liberation Sans, Noto Sans CJK SC, sans-serif" font-size="18" font-weight="300" fill="#C80000" stroke="#000" stroke-width="0.3">X1万</text>
<text x="1481.5" y="768.4" font-family="Liberation Sans, Arial, sans-serif" font-size="18" fill="#C80000" stroke="#000" stroke-width="0.35">100.00</text>
<text x="1491.5" y="791.0" font-family="Liberation Sans, Arial, sans-serif" font-size="18" fill="#C80000" stroke="#000" stroke-width="0.35">80.00</text>
<text x="1491.5" y="825.3" font-family="Liberation Sans, Arial, sans-serif" font-size="18" fill="#C80000" stroke="#000" stroke-width="0.35">50.00</text>
<text x="1491.5" y="858.9" font-family="Liberation Sans, Arial, sans-serif" font-size="18" fill="#C80000" stroke="#000" stroke-width="0.35">20.00</text>
<text x="1501.5" y="881.4" font-family="Liberation Sans, Arial, sans-serif" font-size="18" fill="#C80000" stroke="#000" stroke-width="0.35">0.00</text>
<text x="3.6" y="30.4" font-family="Liberation Sans, Noto Sans CJK SC, sans-serif" font-size="18" font-weight="300" letter-spacing="0.2" fill="#E6E6E6">创业板指(日线.前复权)</text>
<path d="M58.2,512.8 L41,512.8 M44.8,509.4 L41,512.8 L44.8,516.2" fill="none" stroke="#C8C8C8" stroke-width="1.1"/>
<text x="61.2" y="519.4" font-family="Liberation Sans, Arial, sans-serif" font-size="18.5" fill="#F2F2F2" stroke="#000" stroke-width="0.4" textLength="64.6" lengthAdjust="spacingAndGlyphs">1201.80</text>
<path d="M437,47.6 L420,41.3 M425.5,39.8 L419.4,41 L422.5,46.4" fill="none" stroke="#C8C8C8" stroke-width="1.1"/>
<text x="440.7" y="56.2" font-family="Liberation Sans, Arial, sans-serif" font-size="18.5" fill="#F2F2F2" stroke="#000" stroke-width="0.4" textLength="65.5" lengthAdjust="spacingAndGlyphs">1792.03</text>
<text x="27.9" y="556.9" font-family="Liberation Sans, Arial, sans-serif" font-size="18.4" fill="#F2F2F2" stroke="#000" stroke-width="0.4" textLength="76.3" lengthAdjust="spacingAndGlyphs">VOLUME:</text>
<text x="109.8" y="556.9" font-family="Liberation Sans, Arial, sans-serif" font-size="18.4" fill="#F2F2F2" stroke="#000" stroke-width="0.4" textLength="107.9" lengthAdjust="spacingAndGlyphs">63428040.00</text>
<text x="227.7" y="556.9" font-family="Liberation Sans, Arial, sans-serif" font-size="18.4" fill="#F2F2F2" stroke="#000" stroke-width="0.4" textLength="37.2" lengthAdjust="spacingAndGlyphs">MA5:</text>
<text x="270.5" y="556.9" font-family="Liberation Sans, Arial, sans-serif" font-size="18.4" fill="#F2F2F2" stroke="#000" stroke-width="0.4" textLength="107.2" lengthAdjust="spacingAndGlyphs">54166508.00</text>
<text x="388.1" y="556.9" font-family="Liberation Sans, Arial, sans-serif" font-size="18.4" fill="#FFFF00" stroke="#000" stroke-width="0.4" textLength="47.2" lengthAdjust="spacingAndGlyphs">MA10:</text>
<text x="441.7" y="556.9" font-family="Liberation Sans, Arial, sans-serif" font-size="18.4" fill="#FFFF00" stroke="#000" stroke-width="0.4" textLength="107.9" lengthAdjust="spacingAndGlyphs">56093400.00</text>
<text x="28.2" y="732.9" font-family="Liberation Sans, Arial, sans-serif" font-size="18.4" fill="#F2F2F2" stroke="#000" stroke-width="0.4" textLength="83.8" lengthAdjust="spacingAndGlyphs">KDJ(9,3,3)</text>
<text x="122.7" y="732.9" font-family="Liberation Sans, Arial, sans-serif" font-size="18.4" fill="#F2F2F2" stroke="#000" stroke-width="0.4" textLength="13.7" lengthAdjust="spacingAndGlyphs">K:</text>
<text x="143.5" y="732.9" font-family="Liberation Sans, Arial, sans-serif" font-size="18.4" fill="#F2F2F2" stroke="#000" stroke-width="0.4" textLength="44.3" lengthAdjust="spacingAndGlyphs">49.59</text>
<text x="197.4" y="732.9" font-family="Liberation Sans, Arial, sans-serif" font-size="18.4" fill="#FFFF00" stroke="#000" stroke-width="0.4" textLength="15.5" lengthAdjust="spacingAndGlyphs">D:</text>
<text x="220.1" y="732.9" font-family="Liberation Sans, Arial, sans-serif" font-size="18.4" fill="#FFFF00" stroke="#000" stroke-width="0.4" textLength="43.8" lengthAdjust="spacingAndGlyphs">35.34</text>
<text x="273.2" y="732.9" font-family="Liberation Sans, Arial, sans-serif" font-size="18.4" fill="#FF00FF" stroke="#000" stroke-width="0.4" textLength="11.5" lengthAdjust="spacingAndGlyphs">J:</text>
<text x="293.1" y="732.9" font-family="Liberation Sans, Arial, sans-serif" font-size="18.4" fill="#FF00FF" stroke="#000" stroke-width="0.4" textLength="43.7" lengthAdjust="spacingAndGlyphs">78.09</text>
</g>
<rect x="0" y="0" width="1505" height="11.5" fill="url(#tb)"/>
<rect x="0" y="0" width="25" height="2.4" fill="#fafafa"/>
<line x1="40" y1="0.4" x2="76" y2="0.4" stroke="#3a3a3a" stroke-width="1.8" stroke-dasharray="2.4 1.6"/>
<line x1="108" y1="0.4" x2="140" y2="0.4" stroke="#3a3a3a" stroke-width="1.8" stroke-dasharray="2.4 1.6"/>
<line x1="172" y1="0.4" x2="205" y2="0.4" stroke="#3a3a3a" stroke-width="1.8" stroke-dasharray="2.4 1.6"/>
<line x1="235" y1="0.4" x2="268" y2="0.4" stroke="#3a3a3a" stroke-width="1.8" stroke-dasharray="2.4 1.6"/>
<line x1="293" y1="0.4" x2="364" y2="0.4" stroke="#3a3a3a" stroke-width="1.8" stroke-dasharray="2.4 1.6"/>
<line x1="380" y1="0.4" x2="420" y2="0.4" stroke="#3a3a3a" stroke-width="1.8" stroke-dasharray="2.4 1.6"/>
<line x1="448" y1="0.4" x2="481" y2="0.4" stroke="#3a3a3a" stroke-width="1.8" stroke-dasharray="2.4 1.6"/>
<line x1="521" y1="0.4" x2="547" y2="0.4" stroke="#3a3a3a" stroke-width="1.8" stroke-dasharray="2.4 1.6"/>
<line x1="996" y1="0.4" x2="1199" y2="0.4" stroke="#3a3a3a" stroke-width="1.8" stroke-dasharray="2.4 1.6"/>
<rect x="90" y="0" width="1" height="7.5" fill="#e2e2e2"/>
<rect x="155" y="0" width="1" height="7.5" fill="#e2e2e2"/>
<rect x="220" y="0" width="1" height="7.5" fill="#e2e2e2"/>
<rect x="285" y="0" width="1" height="7.5" fill="#e2e2e2"/>
<rect x="372" y="0" width="1" height="7.5" fill="#e2e2e2"/>
<rect x="440" y="0" width="1" height="7.5" fill="#e2e2e2"/>
<rect x="500" y="0" width="1" height="7.5" fill="#e2e2e2"/>
<rect x="560" y="0" width="1" height="7.5" fill="#e2e2e2"/>
<rect x="715" y="0" width="1" height="7.5" fill="#e2e2e2"/>
<path d="M1499.5,0 Q1500,4.2 1505,4.4 L1505,0 Z" fill="#f4f4f4"/>
<rect x="579" y="0" width="57" height="7.6" fill="#e6e6e6"/><rect x="646.5" y="0" width="57" height="7.6" fill="#e6e6e6"/>
<line x1="587" y1="0.4" x2="625" y2="0.4" stroke="#e04040" stroke-width="1.8" stroke-dasharray="2.4 1.6"/><line x1="659" y1="0.4" x2="693" y2="0.4" stroke="#e04040" stroke-width="1.8" stroke-dasharray="2.4 1.6"/>
</svg>
</body></html>
